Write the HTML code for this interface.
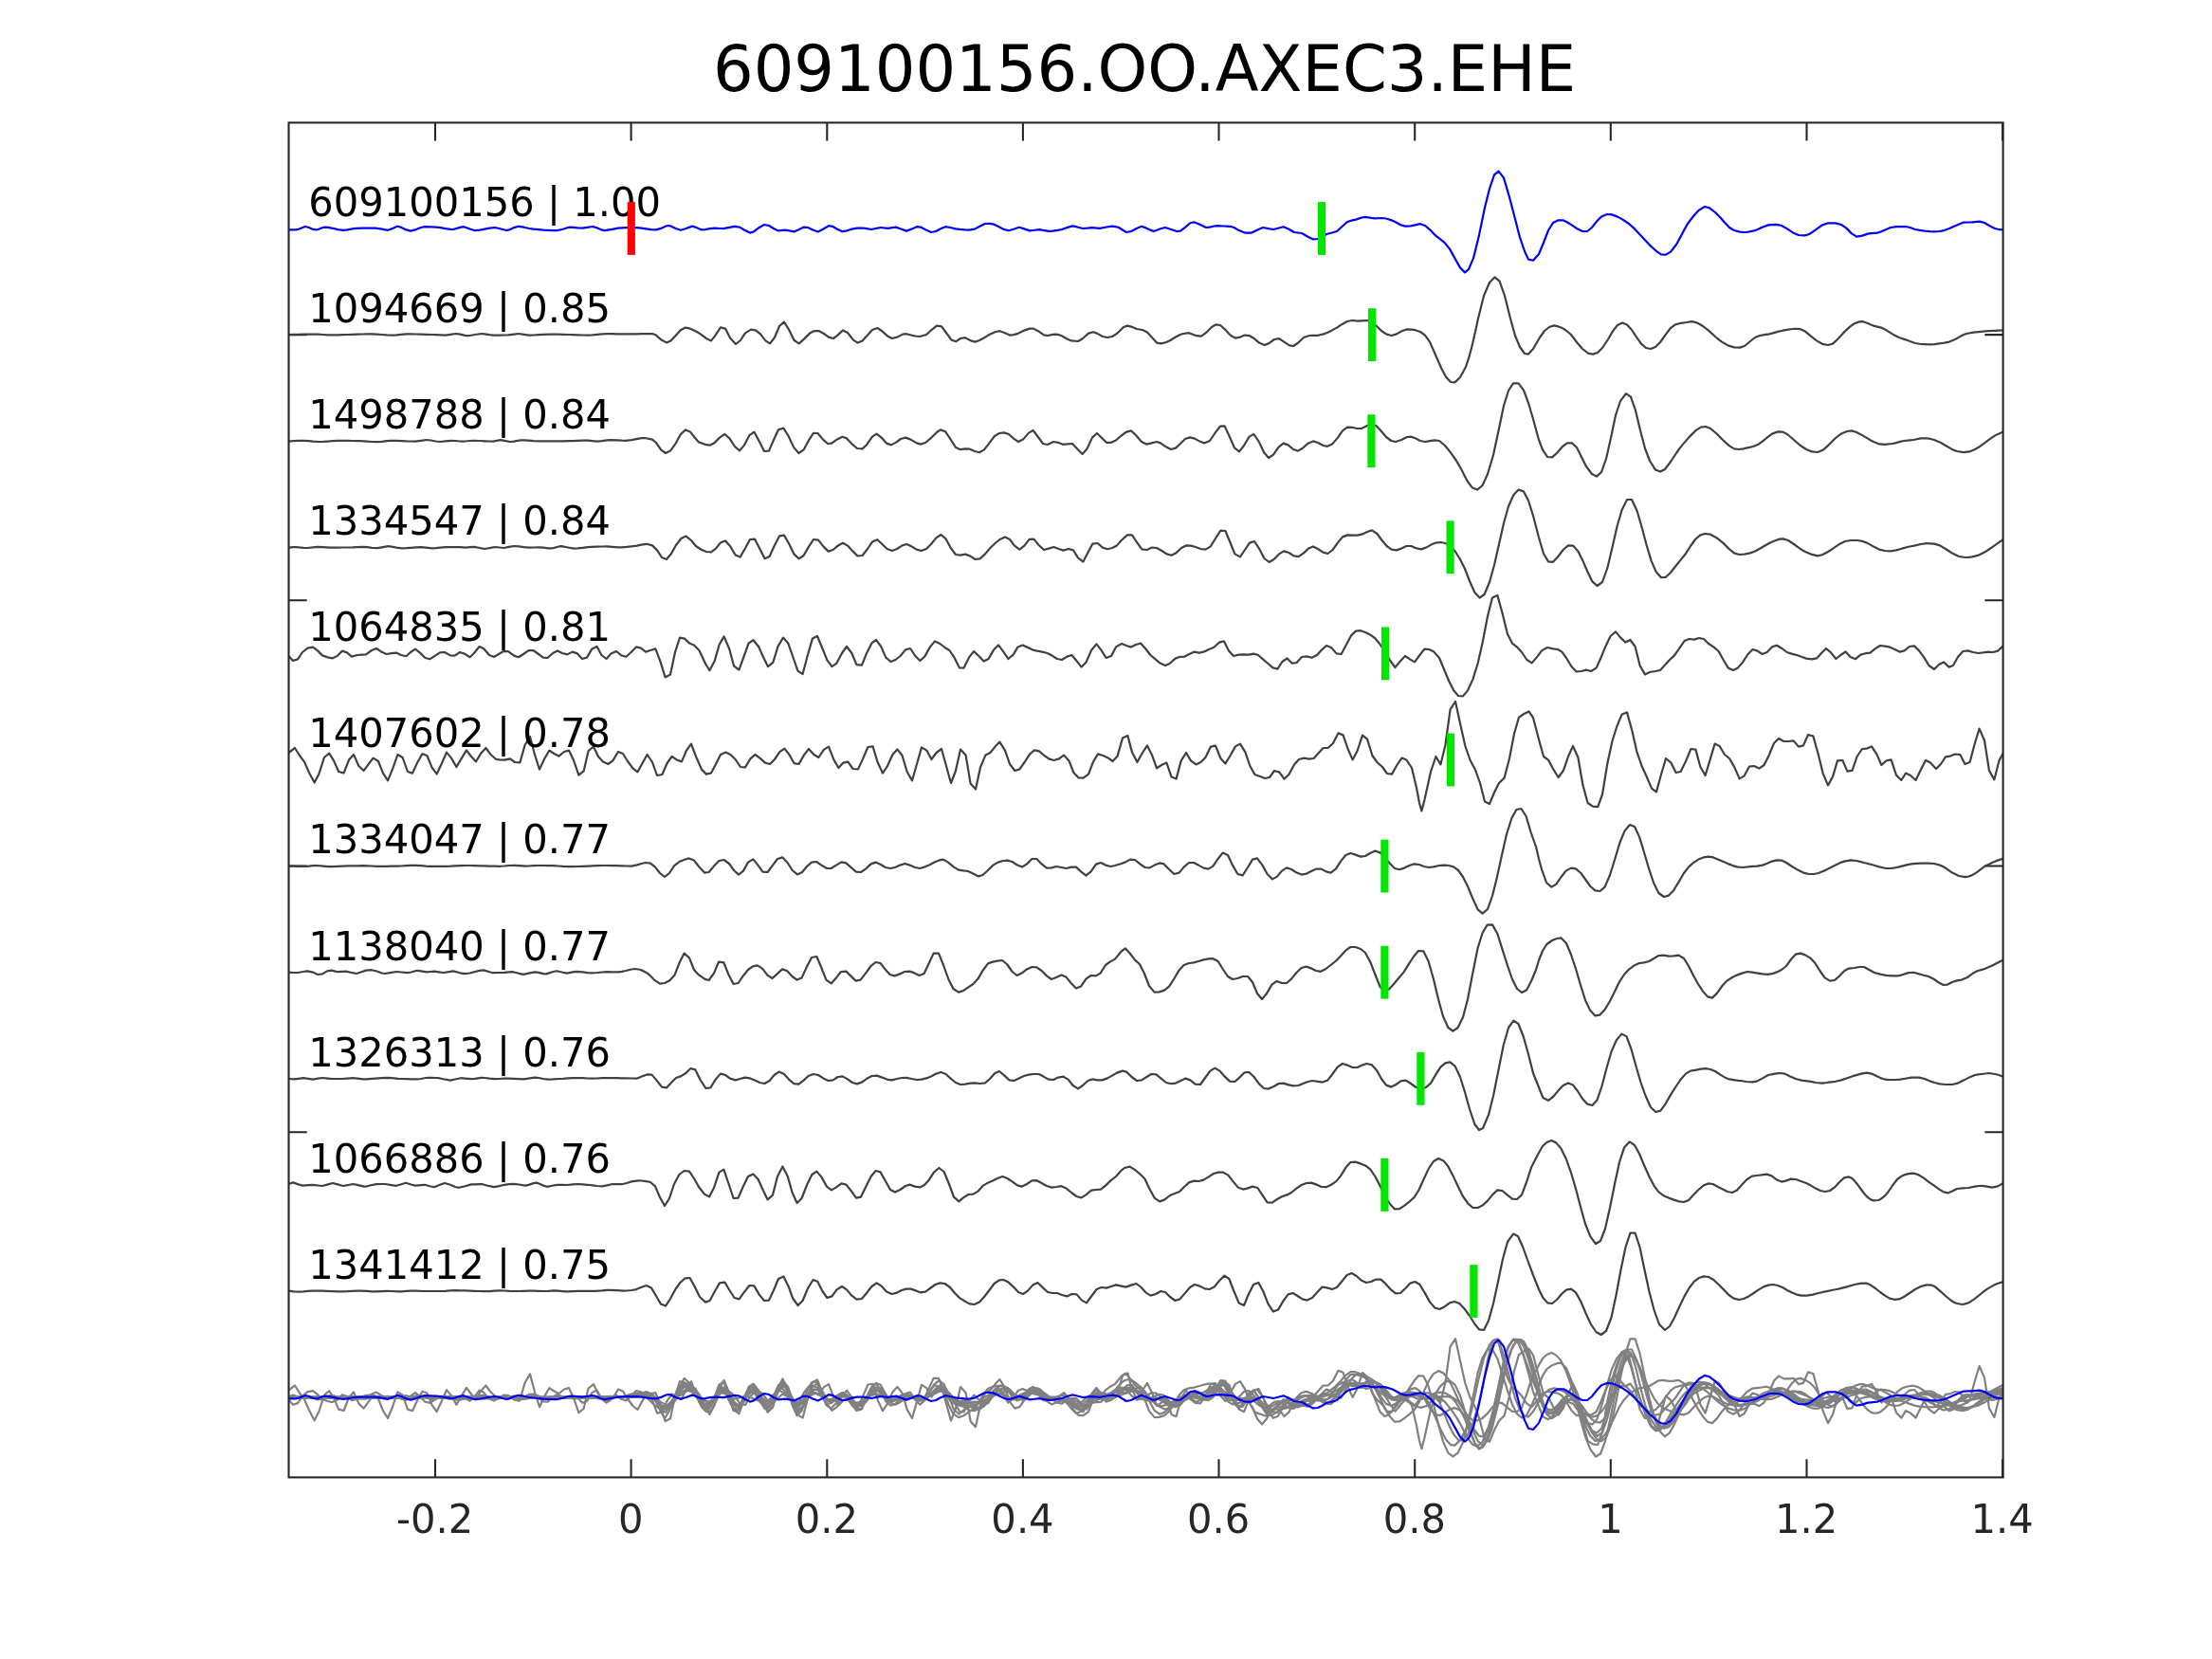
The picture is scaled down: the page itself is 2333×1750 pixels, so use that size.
<!DOCTYPE html><html><head><meta charset="utf-8"><title>609100156.OO.AXEC3.EHE</title>
<style>html,body{margin:0;padding:0;background:#fff}svg{display:block}text{font-family:"DejaVu Sans","Liberation Sans",sans-serif;will-change:transform}</style></head><body>
<svg width="2333" height="1750" viewBox="0 0 2333 1750">
<rect x="0" y="0" width="2333" height="1750" fill="#fff"/>
<clipPath id="ax"><rect x="304.5" y="129.4" width="1808.1" height="1429.0"/></clipPath>
<text x="1207.0" y="96.3" font-size="67.1" text-anchor="middle" fill="#000">609100156.OO.AXEC3.EHE</text>
<path d="M459.0 1558.4V1539.2M459.0 129.4V148.6M665.6 1558.4V1539.2M665.6 129.4V148.6M872.3 1558.4V1539.2M872.3 129.4V148.6M1078.9 1558.4V1539.2M1078.9 129.4V148.6M1285.5 1558.4V1539.2M1285.5 129.4V148.6M1492.2 1558.4V1539.2M1492.2 129.4V148.6M1698.8 1558.4V1539.2M1698.8 129.4V148.6M1905.5 1558.4V1539.2M1905.5 129.4V148.6M2112.1 1558.4V1539.2M2112.1 129.4V148.6M304.5 353.1H323.7M2112.6 353.1H2093.4M304.5 633.2H323.7M2112.6 633.2H2093.4M304.5 913.5H323.7M2112.6 913.5H2093.4M304.5 1194.3H323.7M2112.6 1194.3H2093.4M304.5 1474.2H323.7M2112.6 1474.2H2093.4" stroke="#262626" stroke-width="2.08" fill="none"/>
<g clip-path="url(#ax)"><polyline points="304.0,1474.1 309.7,1473.8 314.8,1473.7 320.0,1473.6 325.2,1473.5 330.0,1473.5 335.5,1473.6 340.7,1473.9 345.8,1474.2 350.0,1474.3 356.2,1474.2 361.3,1474.1 366.5,1473.9 371.7,1473.7 376.8,1473.6 382.0,1473.4 387.2,1473.3 390.0,1473.3 392.3,1473.3 397.5,1473.6 402.7,1473.9 407.8,1474.3 415.0,1474.5 418.2,1474.3 423.3,1473.7 428.0,1473.3 433.6,1473.3 438.8,1473.4 444.0,1473.5 449.1,1473.7 456.0,1473.9 459.5,1474.1 464.6,1474.3 470.0,1474.5 475.0,1473.8 481.0,1472.9 485.3,1473.5 490.5,1474.9 493.0,1475.1 495.6,1474.9 500.8,1473.9 508.0,1472.9 511.1,1473.2 516.3,1474.1 520.0,1474.5 526.6,1474.5 531.8,1474.4 536.0,1474.3 542.1,1473.4 547.0,1472.9 552.5,1473.7 558.0,1474.5 562.8,1474.4 568.0,1474.1 573.1,1473.7 580.0,1473.5 583.5,1473.5 588.6,1473.6 593.8,1473.7 600.0,1473.9 604.1,1474.0 609.3,1474.2 614.5,1474.4 620.0,1474.5 624.8,1474.3 630.0,1473.8 635.1,1473.3 640.0,1473.1 645.5,1473.1 650.6,1473.2 655.8,1473.3 660.0,1473.3 666.1,1473.2 671.3,1473.2 676.5,1473.0 681.6,1472.9 688.0,1472.9 692.0,1474.5 697.1,1479.1 703.0,1482.3 707.4,1480.3 712.6,1474.9 717.8,1469.1 723.0,1466.5 728.1,1467.6 735.0,1470.9 738.4,1473.1 745.0,1477.9 750.0,1480.3 753.9,1475.5 760.0,1466.3 765.0,1467.5 770.0,1477.3 776.0,1483.9 781.0,1479.9 786.0,1472.3 792.0,1468.5 797.0,1469.3 802.0,1473.3 807.4,1480.3 812.0,1483.3 817.0,1476.9 822.0,1464.9 827.0,1460.4 832.0,1468.5 837.6,1479.9 842.8,1483.3 848.0,1478.5 854.0,1472.5 859.0,1469.9 864.0,1470.1 869.0,1472.9 874.0,1476.5 879.0,1477.9 883.1,1474.8 889.0,1469.3 894.0,1471.9 900.0,1479.5 904.6,1482.5 909.6,1480.3 914.1,1475.5 920.0,1468.9 925.4,1466.9 930.0,1469.9 936.0,1475.3 941.0,1477.9 947.0,1476.3 952.0,1473.5 956.0,1473.1 962.0,1474.7 965.7,1475.5 970.0,1475.9 977.0,1473.9 981.2,1470.1 988.0,1464.5 993.0,1465.3 998.0,1471.9 1003.6,1479.5 1008.4,1481.1 1013.0,1477.9 1018.0,1477.1 1024.0,1480.3 1028.4,1481.5 1033.0,1479.9 1038.1,1477.2 1043.2,1474.0 1050.0,1470.9 1054.4,1470.1 1058.7,1471.7 1065.0,1474.5 1069.1,1474.0 1072.0,1473.3 1079.4,1469.7 1086.0,1467.5 1090.0,1467.5 1094.9,1470.1 1101.0,1474.3 1105.0,1474.9 1110.4,1473.8 1113.0,1473.5 1115.6,1473.8 1118.0,1474.5 1120.7,1475.6 1125.9,1478.8 1130.0,1480.3 1137.0,1480.9 1141.4,1478.4 1148.0,1472.5 1153.0,1471.1 1156.9,1472.5 1163.0,1475.9 1168.0,1476.9 1173.0,1475.9 1177.6,1473.0 1180.0,1470.9 1185.0,1465.9 1189.0,1464.5 1193.1,1465.5 1199.0,1467.9 1205.0,1468.9 1210.0,1471.3 1213.7,1475.5 1220.0,1482.5 1225.0,1483.3 1230.0,1481.9 1234.4,1479.9 1239.5,1476.7 1244.7,1473.9 1248.0,1472.9 1254.0,1472.1 1262.0,1475.1 1267.0,1475.5 1272.0,1471.9 1278.0,1465.9 1282.4,1463.2 1287.0,1463.8 1292.0,1468.5 1296.4,1473.2 1299.0,1475.5 1303.0,1477.5 1308.0,1476.5 1313.0,1474.5 1318.0,1475.1 1322.2,1477.7 1328.0,1482.5 1333.6,1485.0 1338.0,1483.3 1344.0,1478.9 1349.0,1478.1 1354.0,1481.3 1360.0,1485.4 1364.0,1486.0 1368.7,1482.9 1375.0,1476.9 1381.0,1474.9 1384.2,1474.8 1390.0,1474.7 1396.0,1473.3 1399.7,1471.9 1404.9,1469.3 1410.0,1466.5 1415.2,1463.0 1421.0,1459.8 1426.0,1458.8 1432.0,1459.4 1435.9,1459.3 1443.0,1458.8 1446.2,1460.0 1452.0,1464.9 1457.0,1469.9 1462.0,1473.3 1467.4,1474.9 1472.4,1473.5 1479.0,1469.9 1484.0,1468.3 1489.0,1468.5 1492.7,1469.1 1498.0,1470.9 1503.0,1474.5 1508.0,1481.5 1513.0,1493.0 1520.0,1509.1 1525.0,1518.5 1530.0,1524.1 1534.4,1524.6 1540.0,1519.1 1546.0,1508.1 1549.5,1497.3 1552.0,1488.0 1554.7,1476.6 1559.0,1456.8 1565.0,1432.7 1571.0,1418.6 1576.4,1413.0 1581.6,1417.2 1587.0,1432.7 1593.0,1456.8 1598.0,1474.9 1603.0,1487.0 1608.0,1494.0 1612.0,1494.6 1617.0,1489.0 1624.0,1476.9 1629.0,1469.9 1634.0,1465.9 1639.0,1464.3 1642.5,1465.0 1645.0,1465.9 1647.7,1467.0 1651.0,1468.9 1657.0,1473.9 1663.0,1481.9 1669.0,1489.0 1675.0,1493.6 1680.0,1494.6 1685.0,1493.0 1690.0,1488.0 1696.0,1478.9 1701.0,1470.3 1706.0,1463.8 1711.0,1461.4 1716.0,1463.4 1721.0,1468.9 1726.0,1476.5 1731.0,1483.5 1736.0,1488.0 1741.0,1489.0 1746.0,1487.0 1751.0,1481.9 1757.0,1473.5 1762.0,1466.9 1767.0,1463.2 1773.0,1461.6 1779.0,1460.8 1784.0,1460.0 1787.1,1460.5 1790.0,1461.4 1792.3,1462.5 1796.0,1464.9 1802.0,1469.5 1809.0,1475.9 1813.0,1479.3 1816.0,1481.5 1823.0,1485.6 1829.0,1487.4 1835.0,1487.6 1840.0,1486.0 1846.0,1480.9 1851.0,1476.9 1856.0,1474.9 1859.5,1474.3 1866.0,1473.3 1869.8,1472.3 1876.0,1470.5 1880.1,1469.5 1886.0,1468.5 1890.5,1467.8 1893.0,1467.7 1895.6,1467.8 1899.0,1468.1 1904.0,1470.5 1910.0,1475.5 1916.0,1480.3 1922.0,1483.7 1928.0,1485.0 1933.0,1483.5 1938.0,1478.9 1944.0,1472.3 1947.3,1468.9 1950.0,1466.5 1952.5,1464.4 1956.0,1462.0 1961.0,1460.2 1965.0,1460.0 1970.0,1461.8 1973.1,1463.3 1976.0,1464.5 1984.0,1466.5 1990.0,1469.5 1996.0,1473.3 1998.9,1475.0 2003.0,1476.9 2009.3,1479.0 2012.0,1479.9 2014.4,1480.9 2020.0,1482.9 2026.0,1483.9 2029.9,1484.2 2036.0,1484.4 2040.3,1484.1 2045.4,1483.3 2048.0,1482.9 2050.6,1482.6 2056.0,1481.5 2062.0,1478.9 2068.0,1475.5 2071.3,1473.9 2074.0,1472.9 2076.4,1472.4 2081.6,1471.6 2084.0,1471.3 2086.8,1471.0 2094.0,1470.3 2097.1,1470.1 2104.0,1469.7 2107.4,1469.5 2113.0,1469.3" fill="none" stroke="#808080" stroke-width="2.20" stroke-linejoin="round" stroke-linecap="butt"/>
<polyline points="304.0,1474.4 309.7,1473.9 314.8,1473.7 320.0,1473.6 325.2,1473.9 330.3,1474.5 336.0,1474.8 340.7,1474.7 345.8,1474.4 351.0,1474.0 356.2,1473.7 360.0,1473.6 366.5,1473.7 371.7,1473.8 376.8,1473.9 380.0,1474.0 387.2,1474.4 392.3,1474.8 398.0,1475.0 402.7,1474.7 407.8,1473.9 412.0,1473.6 418.2,1473.7 423.3,1473.9 428.5,1474.2 433.6,1474.4 438.0,1474.4 444.0,1473.6 450.0,1472.8 454.3,1473.3 459.5,1474.3 464.0,1474.8 469.8,1474.2 476.0,1473.6 480.1,1473.8 485.3,1474.3 488.0,1474.4 490.5,1474.3 495.6,1473.8 500.0,1473.6 506.0,1473.8 511.1,1474.1 516.3,1474.3 520.0,1474.4 528.0,1473.0 531.8,1473.6 538.0,1474.8 542.1,1474.4 547.3,1473.4 550.0,1473.2 552.5,1473.2 557.6,1473.5 562.8,1473.9 570.0,1474.2 573.1,1474.2 578.3,1474.2 583.5,1474.2 588.6,1474.1 593.8,1474.1 600.0,1474.0 604.1,1473.9 609.3,1473.7 614.5,1473.5 620.0,1473.4 624.8,1473.9 630.0,1474.4 635.1,1474.0 640.3,1473.2 644.0,1473.0 650.6,1473.2 655.8,1473.5 660.0,1473.6 666.1,1473.0 671.3,1471.9 676.5,1471.0 680.0,1470.8 688.0,1472.4 692.0,1475.9 697.1,1483.2 702.0,1486.9 707.0,1484.5 712.6,1476.6 717.8,1467.0 723.0,1462.2 728.0,1464.4 733.3,1471.1 737.0,1475.2 745.0,1478.0 749.0,1478.4 753.0,1476.4 759.0,1470.4 764.4,1466.8 769.6,1471.4 775.0,1479.8 780.0,1484.3 785.0,1478.4 790.4,1468.0 795.4,1464.4 801.0,1474.8 806.0,1484.9 811.0,1484.5 816.0,1472.8 821.0,1461.9 826.4,1460.3 831.6,1468.8 837.0,1480.4 842.4,1486.9 847.6,1483.3 853.0,1473.2 858.0,1465.6 862.4,1465.8 868.0,1472.4 873.0,1476.8 877.0,1476.4 883.0,1472.2 888.4,1469.6 893.0,1471.2 898.6,1477.1 904.0,1481.8 909.6,1482.3 914.1,1478.0 920.0,1469.4 924.6,1466.4 929.6,1470.4 935.0,1476.4 940.0,1478.2 945.1,1475.4 950.0,1471.8 955.0,1470.4 960.0,1472.2 967.0,1476.2 971.0,1477.4 976.0,1475.8 981.2,1471.5 988.0,1464.8 992.0,1462.2 997.0,1464.0 1001.9,1471.1 1008.0,1480.8 1013.0,1483.1 1018.0,1482.3 1022.4,1482.5 1028.0,1484.9 1033.0,1486.1 1038.0,1483.3 1043.2,1476.5 1049.0,1468.8 1054.0,1465.8 1059.0,1465.2 1064.0,1466.8 1069.1,1471.4 1074.0,1474.8 1079.0,1472.4 1085.0,1465.4 1089.6,1462.8 1095.0,1469.8 1100.0,1476.8 1105.0,1477.8 1111.0,1474.8 1116.0,1475.6 1121.0,1477.6 1125.9,1477.2 1131.0,1476.8 1136.2,1482.2 1141.6,1487.9 1146.4,1482.5 1152.0,1470.4 1157.0,1465.8 1162.1,1470.8 1167.0,1475.6 1172.0,1475.6 1177.0,1473.2 1182.7,1468.2 1188.0,1464.4 1193.0,1463.2 1198.0,1467.8 1204.0,1474.8 1209.0,1477.4 1213.7,1476.4 1220.0,1474.8 1224.0,1476.2 1229.2,1479.9 1235.0,1482.9 1240.0,1481.4 1244.7,1477.0 1250.0,1471.8 1255.0,1470.2 1260.0,1471.4 1265.4,1474.4 1270.0,1476.2 1276.0,1473.8 1282.0,1464.8 1287.0,1458.3 1291.6,1458.1 1297.0,1469.8 1302.0,1481.2 1307.0,1485.3 1312.0,1478.8 1317.6,1469.4 1322.4,1466.8 1327.6,1474.4 1333.0,1485.9 1338.0,1491.9 1343.0,1488.5 1348.6,1480.4 1353.6,1476.4 1358.6,1478.2 1364.0,1482.9 1369.0,1484.5 1373.9,1481.7 1380.0,1476.2 1385.0,1474.2 1390.0,1475.8 1395.6,1478.8 1400.0,1479.6 1405.0,1477.4 1411.0,1470.4 1416.0,1463.2 1421.0,1459.3 1426.0,1459.5 1431.0,1460.7 1436.0,1460.7 1442.0,1457.7 1447.0,1456.3 1452.0,1458.3 1457.0,1463.8 1462.0,1469.8 1467.4,1473.8 1472.0,1474.8 1478.0,1472.8 1484.0,1469.8 1488.0,1469.4 1492.7,1471.1 1498.0,1473.8 1503.0,1474.8 1508.2,1474.0 1513.0,1473.2 1518.0,1473.8 1524.0,1478.8 1530.0,1486.3 1536.0,1494.9 1539.2,1500.4 1542.0,1505.6 1544.3,1510.2 1548.0,1517.0 1553.0,1523.7 1558.0,1525.7 1563.6,1521.0 1569.0,1509.0 1575.0,1488.9 1581.0,1460.7 1586.0,1436.6 1591.0,1420.5 1596.0,1412.9 1601.6,1412.9 1607.0,1420.1 1612.0,1433.6 1617.0,1450.7 1623.0,1472.8 1627.0,1483.3 1632.0,1490.9 1637.0,1491.3 1642.0,1486.9 1648.0,1479.8 1653.0,1476.2 1658.0,1476.2 1663.0,1480.8 1668.0,1490.9 1673.0,1500.9 1679.0,1509.0 1684.0,1511.6 1689.0,1507.0 1694.0,1492.9 1699.0,1470.8 1704.0,1446.7 1709.0,1431.6 1715.0,1423.8 1720.0,1427.2 1725.0,1441.6 1730.0,1462.8 1735.0,1481.8 1740.0,1494.9 1746.0,1504.6 1751.0,1506.6 1756.0,1504.0 1762.0,1495.9 1768.0,1486.9 1771.6,1481.8 1775.0,1477.4 1782.0,1469.4 1789.0,1462.4 1794.0,1459.3 1799.0,1458.7 1804.0,1460.7 1810.0,1465.8 1813.0,1468.7 1817.0,1472.8 1824.0,1479.2 1829.0,1482.3 1834.0,1482.9 1838.8,1482.2 1842.0,1481.4 1849.0,1479.8 1855.0,1477.2 1859.5,1473.9 1862.0,1471.8 1864.6,1469.6 1869.0,1466.4 1875.0,1464.2 1880.0,1464.4 1885.0,1466.8 1892.0,1472.8 1895.6,1476.0 1899.0,1478.8 1905.0,1482.9 1911.0,1485.3 1917.0,1485.9 1923.0,1483.3 1926.6,1480.2 1929.0,1477.8 1931.8,1475.0 1936.0,1470.8 1942.0,1466.2 1948.0,1463.8 1953.0,1463.2 1957.6,1464.6 1960.0,1465.8 1962.8,1467.2 1968.0,1470.2 1973.1,1473.3 1976.0,1474.8 1982.0,1477.2 1988.0,1477.6 1996.0,1476.8 1998.9,1476.2 2004.1,1474.7 2008.0,1473.8 2014.4,1473.2 2018.0,1472.8 2026.0,1471.2 2032.0,1471.2 2035.1,1471.5 2040.0,1472.8 2046.0,1475.2 2052.0,1478.8 2058.0,1482.3 2060.9,1483.7 2064.0,1484.9 2071.0,1486.1 2077.0,1485.3 2083.0,1482.9 2086.8,1480.6 2090.0,1478.4 2098.0,1472.4 2102.3,1469.4 2106.0,1467.2 2113.0,1464.2" fill="none" stroke="#808080" stroke-width="2.20" stroke-linejoin="round" stroke-linecap="butt"/>
<polyline points="304.4,1474.3 309.7,1474.0 312.0,1473.9 314.8,1474.0 320.0,1474.5 324.0,1474.7 330.3,1474.0 335.0,1473.5 340.7,1473.8 348.0,1474.3 351.0,1474.3 356.2,1474.3 361.3,1474.3 366.5,1474.2 372.0,1474.1 376.8,1473.8 382.0,1473.5 387.2,1473.9 392.3,1474.5 398.0,1474.9 402.7,1474.1 409.0,1472.9 413.0,1473.3 418.2,1474.4 424.0,1475.1 428.5,1475.0 433.6,1474.6 438.8,1474.1 444.0,1473.9 449.1,1474.4 456.0,1475.1 459.5,1475.0 464.6,1474.4 470.0,1473.9 475.0,1473.8 481.0,1473.7 485.3,1474.0 491.0,1474.3 495.6,1473.9 500.0,1473.5 506.0,1474.8 511.0,1475.7 516.3,1474.8 522.0,1473.7 526.6,1474.2 531.0,1474.7 537.0,1473.6 542.0,1472.7 547.3,1473.1 552.5,1473.9 558.0,1474.3 562.8,1474.2 569.0,1474.1 573.1,1474.4 578.3,1475.0 581.0,1475.1 583.5,1474.8 588.6,1473.4 592.0,1472.9 599.0,1474.2 605.0,1475.3 609.3,1475.1 614.5,1474.5 620.0,1473.9 624.8,1473.6 630.0,1473.4 635.1,1473.2 640.0,1473.1 645.5,1473.5 652.0,1474.1 655.8,1474.0 661.0,1473.6 666.1,1473.1 672.0,1472.3 676.5,1471.4 682.0,1470.5 688.0,1472.1 693.0,1477.1 698.0,1484.8 703.0,1486.8 708.0,1480.8 713.0,1471.7 718.4,1464.7 723.6,1462.3 729.0,1466.7 734.0,1472.7 740.0,1476.7 745.0,1478.7 750.0,1479.1 755.0,1475.3 760.0,1469.1 765.0,1467.1 770.0,1472.7 775.6,1482.2 780.6,1484.4 785.6,1475.7 791.0,1465.7 796.0,1465.3 801.4,1475.7 806.6,1486.0 811.6,1483.8 816.6,1472.7 822.0,1462.1 827.0,1461.3 832.4,1470.7 837.4,1481.2 842.6,1486.2 847.6,1482.8 853.0,1473.3 858.0,1465.7 863.0,1466.3 868.4,1473.1 873.6,1478.3 878.6,1476.7 884.0,1472.1 889.0,1469.5 894.0,1472.3 899.4,1478.1 904.4,1483.2 909.6,1482.8 915.0,1475.7 920.0,1468.3 925.4,1465.9 930.4,1470.7 935.6,1475.7 941.0,1477.7 946.0,1475.7 951.6,1472.1 956.4,1470.7 961.6,1473.1 966.6,1476.3 971.6,1477.7 977.0,1475.7 982.0,1470.7 987.4,1464.1 992.4,1460.7 997.6,1465.1 1003.0,1475.1 1008.0,1481.8 1013.0,1482.4 1018.0,1481.4 1023.0,1483.2 1028.6,1486.8 1033.6,1486.2 1039.0,1481.2 1044.4,1474.7 1049.6,1469.7 1054.6,1465.7 1060.0,1463.3 1065.0,1465.7 1070.0,1472.3 1075.4,1476.3 1080.4,1472.3 1085.6,1465.5 1090.4,1465.3 1095.6,1471.7 1101.0,1476.7 1106.0,1475.3 1111.4,1473.7 1116.6,1475.7 1121.6,1477.3 1127.0,1475.7 1132.0,1477.1 1137.0,1485.2 1142.4,1489.4 1147.4,1479.7 1152.4,1470.3 1157.6,1469.7 1163.0,1474.3 1168.0,1475.9 1173.0,1474.7 1178.0,1472.1 1182.7,1466.7 1189.0,1461.1 1194.0,1461.1 1199.0,1468.7 1204.4,1476.1 1209.6,1476.7 1215.0,1474.3 1220.0,1474.7 1225.4,1477.7 1230.4,1481.2 1235.6,1482.6 1240.0,1480.4 1246.0,1474.7 1251.0,1472.1 1256.0,1472.3 1261.0,1473.7 1266.4,1475.7 1271.4,1476.3 1276.6,1473.3 1282.0,1464.7 1287.4,1456.2 1292.4,1456.6 1297.4,1468.7 1302.4,1481.2 1308.0,1484.2 1313.0,1476.7 1318.0,1469.3 1323.0,1467.7 1328.0,1475.3 1333.4,1485.8 1338.6,1489.8 1343.6,1486.8 1349.0,1481.2 1354.0,1478.1 1359.4,1479.7 1364.6,1483.2 1369.6,1484.0 1375.0,1480.1 1380.0,1475.3 1385.0,1473.1 1390.0,1475.7 1395.4,1479.3 1400.4,1480.8 1405.6,1476.7 1411.0,1469.1 1416.0,1463.1 1421.4,1461.1 1427.0,1461.3 1432.0,1461.3 1437.0,1460.0 1442.0,1457.6 1447.0,1456.0 1452.4,1459.6 1457.6,1466.7 1462.6,1472.7 1467.6,1476.3 1473.0,1477.1 1478.0,1475.3 1483.4,1472.7 1488.4,1472.7 1494.0,1475.1 1499.0,1476.1 1504.0,1474.3 1509.4,1471.3 1514.4,1469.3 1519.4,1468.7 1524.6,1469.7 1530.0,1472.7 1535.0,1478.7 1540.0,1486.8 1545.0,1496.8 1550.0,1509.9 1555.4,1522.0 1560.6,1527.6 1565.6,1524.0 1571.0,1510.9 1576.0,1492.8 1581.0,1470.7 1586.0,1448.6 1591.0,1430.5 1596.4,1418.4 1601.6,1413.0 1607.0,1414.8 1612.0,1424.5 1617.0,1440.6 1623.0,1463.7 1628.0,1480.8 1633.0,1489.2 1638.0,1489.6 1643.4,1483.8 1648.6,1476.7 1654.0,1472.1 1659.0,1472.3 1664.4,1478.1 1669.4,1488.4 1674.4,1499.8 1679.4,1510.3 1684.6,1514.9 1690.0,1510.9 1695.4,1495.8 1700.6,1473.7 1705.6,1451.6 1710.6,1434.5 1716.0,1423.5 1721.0,1423.5 1726.6,1435.5 1731.6,1452.6 1736.6,1471.7 1741.6,1488.4 1746.6,1499.8 1752.0,1506.1 1756.6,1505.9 1762.0,1500.9 1767.4,1493.8 1771.6,1488.7 1778.0,1480.8 1783.0,1472.7 1788.0,1465.7 1793.0,1461.3 1798.0,1459.6 1803.6,1460.3 1809.0,1463.1 1813.0,1465.9 1818.0,1470.1 1824.0,1476.1 1829.4,1480.4 1834.4,1481.8 1840.0,1481.4 1846.0,1480.1 1849.1,1479.0 1852.0,1477.7 1854.3,1476.5 1859.0,1473.7 1866.0,1469.7 1869.8,1468.0 1873.0,1466.7 1877.0,1465.3 1880.6,1465.1 1886.0,1466.7 1892.0,1470.7 1895.6,1473.4 1898.0,1475.1 1900.8,1476.9 1904.0,1478.7 1910.0,1481.4 1917.0,1483.2 1922.0,1482.0 1928.0,1478.7 1931.8,1476.3 1935.0,1474.1 1941.0,1470.1 1946.0,1467.7 1952.0,1466.7 1959.0,1466.7 1964.0,1467.5 1969.0,1469.3 1973.1,1471.6 1976.0,1473.3 1982.0,1476.3 1988.0,1477.7 1994.0,1478.1 2000.0,1477.1 2004.1,1476.0 2007.0,1475.1 2012.0,1473.7 2014.4,1473.2 2019.0,1472.3 2026.0,1470.7 2032.0,1469.9 2035.1,1470.0 2040.0,1470.3 2046.0,1472.1 2052.0,1475.7 2055.8,1478.3 2059.0,1480.4 2066.0,1483.8 2073.0,1484.8 2076.4,1484.6 2080.0,1484.2 2087.0,1482.4 2094.0,1478.7 2097.1,1476.8 2102.0,1473.3 2109.0,1468.3 2113.0,1465.7" fill="none" stroke="#808080" stroke-width="2.20" stroke-linejoin="round" stroke-linecap="butt"/>
<polyline points="304.4,1476.6 309.0,1481.7 314.0,1480.1 319.0,1472.6 324.4,1468.2 330.0,1467.2 335.0,1471.0 340.0,1476.0 345.6,1478.0 350.4,1479.1 355.6,1476.6 361.0,1471.2 366.0,1473.0 371.0,1477.2 377.0,1475.6 382.0,1475.3 386.0,1475.0 392.0,1470.6 397.0,1468.6 402.0,1472.0 407.6,1474.6 413.0,1473.8 418.0,1473.2 423.0,1475.6 428.4,1476.8 433.0,1472.6 438.0,1469.2 443.0,1473.2 448.4,1478.7 453.6,1479.9 459.0,1476.2 464.0,1473.0 469.0,1472.6 475.0,1476.0 479.6,1476.2 485.0,1472.6 490.0,1474.2 495.6,1477.8 500.0,1473.6 505.6,1466.6 510.0,1468.6 516.0,1475.6 521.0,1477.6 526.0,1474.6 531.0,1471.6 536.0,1471.8 542.0,1476.2 547.0,1477.8 552.0,1474.6 557.6,1470.8 562.4,1470.6 568.0,1474.6 573.0,1478.3 577.6,1478.7 583.0,1473.6 588.0,1471.0 593.0,1473.6 598.4,1475.0 603.6,1472.2 609.0,1474.0 614.0,1479.7 619.0,1478.3 624.4,1469.0 629.6,1466.6 634.4,1475.6 639.6,1479.7 644.4,1474.2 650.0,1471.6 655.0,1475.8 660.4,1477.4 665.6,1472.6 671.0,1467.0 676.0,1468.2 681.0,1472.2 686.0,1470.6 691.4,1469.0 696.4,1482.3 701.6,1499.2 707.0,1496.3 712.0,1472.6 717.0,1457.1 722.0,1458.2 727.0,1463.0 732.0,1465.0 737.4,1470.6 744.0,1484.7 748.4,1491.9 753.6,1482.3 758.6,1464.6 763.6,1455.9 769.4,1469.6 774.0,1487.1 779.4,1491.3 784.4,1477.6 789.6,1463.0 794.6,1459.8 800.0,1466.6 805.0,1477.6 810.0,1487.9 815.4,1483.3 820.6,1466.2 826.0,1457.1 831.2,1463.0 836.0,1476.6 841.4,1492.3 846.6,1495.7 851.6,1476.6 857.0,1457.9 862.0,1455.5 867.4,1468.6 872.4,1481.1 877.4,1487.9 882.4,1484.3 888.0,1473.6 893.0,1466.6 898.4,1473.6 903.4,1485.9 909.0,1486.3 914.0,1473.8 919.4,1463.0 924.0,1459.6 929.0,1466.2 934.4,1478.3 939.4,1482.7 944.4,1480.7 949.6,1476.6 955.0,1470.0 960.0,1468.6 965.4,1476.6 970.4,1481.7 975.4,1477.0 981.0,1467.0 986.0,1461.0 991.4,1463.6 996.4,1467.6 1001.4,1470.6 1006.4,1478.0 1012.0,1489.1 1016.6,1489.3 1022.0,1478.0 1027.2,1471.6 1032.4,1476.6 1037.6,1482.3 1042.6,1479.7 1048.0,1470.2 1053.0,1465.0 1058.4,1472.2 1063.4,1479.7 1068.6,1475.2 1073.6,1467.0 1078.6,1465.0 1084.0,1467.6 1089.4,1470.2 1094.0,1471.2 1099.4,1472.2 1104.6,1473.6 1109.6,1476.2 1115.0,1479.7 1120.0,1480.7 1125.4,1477.2 1130.4,1475.6 1135.4,1481.7 1140.6,1488.3 1145.6,1483.1 1151.0,1470.6 1156.4,1464.0 1161.4,1470.2 1166.6,1478.7 1172.0,1476.6 1177.0,1467.0 1183.0,1463.6 1188.0,1465.6 1193.0,1467.2 1198.0,1464.6 1203.0,1463.2 1208.0,1468.6 1213.4,1475.6 1218.6,1480.1 1223.6,1484.3 1229.0,1486.7 1233.6,1484.7 1239.6,1479.3 1244.0,1477.6 1249.4,1477.2 1254.4,1474.6 1259.6,1472.2 1265.0,1473.2 1270.0,1472.0 1275.0,1469.6 1280.0,1467.6 1286.0,1462.2 1291.0,1461.0 1296.0,1471.0 1301.0,1476.6 1306.4,1475.2 1312.0,1475.0 1317.0,1475.2 1322.0,1474.2 1327.0,1475.6 1332.0,1480.1 1337.4,1484.7 1342.4,1489.1 1347.4,1490.3 1352.4,1482.7 1357.6,1479.1 1362.6,1484.3 1367.6,1483.7 1373.0,1477.6 1378.0,1477.0 1383.6,1478.5 1389.0,1475.6 1394.0,1470.2 1399.0,1465.6 1404.0,1467.6 1409.6,1474.0 1414.6,1474.6 1420.0,1464.6 1425.0,1454.9 1430.0,1450.1 1435.0,1449.7 1440.0,1451.5 1445.0,1453.9 1450.0,1457.5 1455.0,1463.6 1461.0,1472.6 1466.4,1481.7 1471.4,1488.7 1476.4,1482.7 1482.0,1476.6 1487.0,1480.1 1492.0,1483.1 1497.4,1475.6 1502.4,1469.2 1507.4,1469.6 1512.4,1472.2 1518.0,1478.7 1523.0,1490.7 1528.0,1502.8 1533.0,1512.8 1538.0,1518.9 1543.0,1519.3 1548.0,1513.2 1553.4,1501.4 1558.6,1484.7 1563.6,1462.6 1569.0,1434.4 1574.0,1414.7 1579.4,1412.3 1584.6,1431.4 1590.0,1453.5 1595.0,1463.2 1600.0,1467.2 1605.0,1472.6 1610.4,1480.7 1615.6,1484.1 1621.8,1476.8 1626.0,1471.0 1632.0,1467.6 1638.0,1469.0 1643.0,1469.6 1647.4,1472.2 1652.0,1478.7 1657.4,1487.7 1662.6,1493.1 1668.0,1492.7 1673.0,1491.3 1678.0,1492.7 1683.6,1489.3 1688.4,1478.7 1693.6,1466.0 1698.6,1455.5 1704.0,1450.9 1709.0,1456.9 1714.4,1462.2 1719.4,1459.6 1724.6,1466.6 1729.6,1486.7 1735.0,1496.1 1740.0,1493.7 1746.0,1492.7 1751.0,1491.7 1756.0,1486.3 1761.0,1480.7 1766.0,1476.0 1771.4,1468.2 1776.6,1460.6 1781.6,1458.6 1787.0,1459.2 1792.0,1457.5 1797.0,1458.6 1802.0,1463.6 1807.6,1467.2 1812.6,1471.6 1817.6,1480.7 1822.6,1489.1 1828.0,1491.7 1833.0,1489.1 1838.0,1483.3 1843.6,1474.6 1848.6,1469.6 1853.6,1471.2 1858.6,1474.6 1863.6,1472.6 1869.0,1467.0 1874.0,1465.4 1879.4,1468.6 1884.6,1472.6 1889.6,1474.2 1895.0,1475.6 1900.0,1477.4 1905.0,1479.3 1911.0,1480.1 1916.0,1479.1 1921.0,1473.6 1926.0,1468.6 1931.0,1473.0 1936.4,1479.7 1941.4,1475.6 1946.6,1472.0 1951.6,1477.6 1957.0,1479.9 1962.4,1475.2 1967.4,1473.8 1972.4,1473.2 1977.6,1469.0 1983.0,1465.6 1988.0,1466.2 1993.0,1467.2 1998.4,1469.6 2003.6,1472.2 2008.6,1471.0 2014.0,1466.6 2019.0,1466.0 2024.0,1471.0 2029.4,1478.3 2034.4,1486.7 2040.0,1490.7 2045.0,1485.7 2050.0,1483.1 2055.6,1488.3 2060.0,1486.7 2065.0,1477.6 2070.4,1471.6 2075.6,1471.0 2081.0,1472.6 2086.4,1473.6 2091.6,1473.0 2097.0,1472.2 2102.0,1472.6 2107.0,1471.2 2113.0,1465.6" fill="none" stroke="#808080" stroke-width="2.20" stroke-linejoin="round" stroke-linecap="butt"/>
<polyline points="304.4,1466.5 311.0,1461.5 316.0,1469.5 321.0,1476.1 326.0,1487.6 331.6,1498.3 336.4,1489.0 342.0,1471.5 347.2,1467.1 352.0,1474.9 357.2,1486.6 362.6,1488.0 368.0,1474.1 373.0,1468.5 378.4,1480.6 383.6,1485.6 389.0,1478.2 393.6,1472.1 399.0,1475.5 404.0,1488.2 409.0,1496.0 414.0,1484.0 419.4,1468.5 424.6,1471.5 430.0,1486.6 435.0,1488.2 440.4,1476.6 445.4,1467.7 450.4,1469.5 455.6,1482.2 460.6,1489.0 465.6,1478.6 471.0,1466.1 476.0,1472.1 481.4,1481.6 486.4,1473.1 492.0,1463.9 497.0,1470.5 502.0,1475.9 507.0,1467.5 512.4,1461.5 517.6,1468.5 523.0,1473.3 526.6,1473.8 532.0,1474.1 538.0,1472.9 543.0,1476.6 548.4,1477.0 553.6,1458.5 559.0,1449.4 564.0,1468.5 569.0,1484.2 574.4,1472.5 579.4,1464.1 584.4,1467.5 589.4,1470.1 595.0,1465.5 600.0,1464.1 605.0,1474.5 610.4,1490.2 615.6,1486.0 620.6,1464.5 626.0,1460.1 631.0,1470.5 636.0,1476.1 641.4,1478.6 646.4,1474.9 652.0,1465.5 657.0,1467.5 662.0,1475.5 667.4,1483.0 672.4,1487.0 677.6,1477.6 682.6,1468.5 688.0,1476.6 693.0,1490.6 698.4,1489.6 703.6,1477.6 708.6,1470.5 714.0,1474.1 719.0,1475.9 724.0,1464.1 729.0,1457.1 734.0,1470.5 740.0,1484.2 745.0,1489.2 750.0,1488.0 755.0,1478.6 760.0,1468.5 765.4,1466.1 770.4,1468.5 775.6,1473.5 781.0,1481.6 786.0,1482.0 791.4,1472.9 796.4,1468.5 801.4,1472.1 807.0,1477.2 812.0,1478.6 817.0,1473.5 822.4,1465.7 827.4,1462.1 832.4,1468.5 837.6,1477.8 842.6,1478.6 848.0,1468.9 853.0,1462.5 858.4,1468.5 863.4,1471.5 869.0,1463.1 874.0,1460.1 879.4,1473.9 884.4,1482.6 889.4,1477.2 894.4,1476.1 899.6,1483.6 905.0,1484.0 910.0,1473.1 915.4,1460.5 920.6,1459.9 925.6,1476.6 931.0,1488.2 936.0,1480.6 941.4,1468.5 946.4,1462.9 951.6,1469.5 956.6,1486.6 962.0,1496.0 967.0,1478.6 972.0,1460.9 977.4,1464.1 982.4,1473.5 987.6,1466.5 993.0,1462.5 998.0,1480.6 1003.0,1498.7 1008.0,1485.6 1013.0,1463.1 1018.6,1469.1 1023.6,1499.3 1029.0,1505.3 1034.0,1482.0 1039.4,1469.1 1044.4,1466.5 1049.6,1460.1 1054.4,1455.0 1060.0,1464.1 1065.0,1478.6 1070.4,1485.6 1075.4,1484.0 1080.6,1476.6 1086.0,1468.1 1091.0,1463.9 1096.0,1464.9 1101.4,1469.5 1106.6,1473.1 1111.6,1474.5 1117.0,1472.9 1122.0,1469.1 1127.4,1474.9 1132.4,1487.6 1137.6,1493.0 1142.6,1493.2 1148.0,1489.2 1153.0,1476.1 1158.0,1467.9 1163.4,1469.5 1168.6,1471.9 1173.6,1475.5 1178.6,1469.9 1184.0,1451.0 1189.4,1448.4 1194.0,1466.1 1199.4,1476.6 1204.4,1467.5 1210.0,1458.9 1215.0,1468.9 1220.0,1483.0 1225.0,1479.6 1230.4,1477.2 1235.6,1492.2 1240.6,1494.2 1245.6,1475.1 1251.0,1466.5 1256.0,1474.9 1261.4,1479.0 1266.4,1476.6 1271.4,1471.5 1277.0,1460.1 1282.0,1459.1 1287.4,1472.5 1292.4,1478.0 1297.6,1469.5 1303.0,1459.9 1308.0,1457.1 1313.4,1465.9 1318.4,1480.6 1323.4,1489.6 1329.0,1491.6 1334.0,1493.6 1339.0,1492.6 1344.0,1485.6 1349.4,1487.2 1354.4,1494.2 1359.4,1489.6 1365.0,1479.2 1370.0,1473.5 1375.6,1472.1 1380.6,1473.1 1385.6,1472.5 1391.0,1466.5 1395.6,1461.5 1400.6,1461.5 1406.0,1456.5 1411.4,1445.8 1416.6,1447.8 1421.6,1462.5 1426.6,1473.9 1431.6,1464.5 1437.0,1448.0 1442.0,1452.0 1447.4,1469.5 1452.4,1476.6 1458.0,1481.6 1463.0,1488.6 1468.0,1489.2 1473.4,1479.6 1478.4,1472.1 1483.4,1474.1 1489.0,1482.6 1494.0,1503.7 1497.0,1519.8 1499.4,1528.2 1502.4,1516.8 1509.0,1486.6 1514.4,1470.5 1519.4,1479.0 1524.4,1458.5 1529.6,1420.7 1535.0,1412.2 1540.0,1435.3 1545.4,1459.5 1550.6,1474.5 1556.0,1484.6 1561.0,1498.7 1566.0,1518.4 1571.0,1520.8 1576.0,1508.7 1581.0,1498.7 1586.6,1493.2 1592.0,1472.5 1597.0,1446.4 1602.0,1428.9 1607.4,1425.3 1612.4,1422.7 1617.0,1429.3 1623.0,1452.4 1628.0,1470.5 1633.0,1474.1 1638.0,1483.6 1643.6,1492.6 1649.0,1485.2 1654.0,1470.5 1659.0,1459.5 1664.4,1471.5 1669.4,1500.7 1674.6,1519.8 1680.0,1523.4 1685.2,1524.0 1690.0,1510.7 1695.4,1477.6 1700.4,1454.4 1705.4,1438.4 1710.6,1425.9 1716.0,1423.7 1721.4,1443.4 1726.4,1465.5 1731.6,1480.6 1736.6,1491.6 1742.0,1504.3 1747.0,1508.1 1752.0,1489.6 1757.0,1472.5 1762.4,1477.2 1767.6,1487.6 1772.6,1486.6 1778.0,1475.5 1783.4,1462.5 1788.4,1463.1 1793.4,1481.6 1798.6,1490.6 1803.6,1473.9 1808.6,1457.1 1813.6,1459.5 1819.0,1468.5 1824.0,1472.5 1829.4,1482.0 1834.6,1494.0 1839.6,1491.2 1845.0,1481.2 1850.0,1480.6 1855.4,1483.2 1860.6,1479.6 1865.6,1469.5 1871.0,1456.5 1876.0,1451.4 1881.4,1454.4 1886.4,1454.4 1891.6,1453.8 1897.0,1460.1 1902.0,1458.9 1907.0,1447.4 1912.4,1449.0 1917.6,1467.5 1922.6,1488.2 1928.0,1501.1 1933.0,1492.0 1938.0,1474.9 1943.4,1474.5 1948.4,1486.2 1953.6,1485.2 1958.6,1470.5 1964.0,1462.5 1969.0,1462.1 1974.0,1459.9 1979.4,1468.1 1984.4,1479.6 1989.6,1474.9 1994.6,1473.9 2000.0,1490.2 2005.4,1495.6 2010.0,1488.2 2015.0,1490.6 2020.6,1495.6 2025.6,1485.2 2031.0,1474.5 2036.0,1477.2 2042.0,1483.6 2047.0,1478.6 2052.0,1470.9 2057.0,1470.1 2062.0,1468.1 2067.4,1468.5 2072.4,1478.6 2077.6,1476.6 2082.6,1457.5 2087.6,1441.0 2093.0,1453.4 2098.0,1485.6 2103.4,1495.0 2108.4,1474.9 2113.0,1466.5" fill="none" stroke="#808080" stroke-width="2.20" stroke-linejoin="round" stroke-linecap="butt"/>
<polyline points="304.4,1474.0 309.7,1474.2 314.8,1474.2 320.0,1474.2 324.0,1474.3 330.3,1473.7 334.0,1473.4 340.7,1474.1 346.0,1474.7 351.0,1474.6 356.2,1474.3 361.3,1474.1 368.0,1473.8 371.7,1473.8 376.8,1473.7 384.0,1473.6 387.2,1473.7 392.3,1474.0 397.5,1474.2 400.0,1474.3 402.7,1474.2 407.8,1474.2 413.0,1474.2 420.0,1474.0 423.3,1473.9 428.5,1473.6 433.6,1473.4 438.0,1473.2 444.0,1473.6 449.1,1474.1 452.0,1474.3 454.3,1474.3 459.5,1474.3 464.6,1474.3 470.0,1474.3 475.0,1474.1 480.1,1473.9 485.3,1473.6 492.0,1473.4 495.6,1473.5 500.8,1473.6 506.0,1473.7 510.0,1473.8 516.3,1474.0 521.5,1474.2 526.0,1474.3 531.8,1473.9 537.0,1473.5 542.0,1473.2 547.3,1473.6 554.0,1474.0 557.6,1473.9 562.8,1473.6 568.0,1473.4 573.1,1473.5 578.3,1473.5 584.0,1473.6 588.6,1473.9 593.8,1474.3 600.0,1474.7 604.1,1474.6 609.3,1474.5 614.5,1474.3 620.0,1474.0 624.8,1473.8 630.0,1473.6 636.0,1473.4 640.3,1473.5 645.5,1473.6 650.0,1473.6 655.8,1473.8 661.0,1474.0 666.0,1474.0 672.0,1472.8 676.5,1471.4 681.0,1470.4 686.0,1471.0 691.0,1475.1 696.0,1481.5 701.0,1485.5 706.0,1481.5 711.0,1473.8 716.4,1469.4 721.4,1467.4 726.6,1465.8 732.0,1468.0 737.0,1474.5 743.0,1481.1 747.6,1480.5 753.0,1474.0 758.4,1468.4 763.6,1467.4 769.0,1471.4 774.0,1478.5 779.0,1483.1 784.0,1479.1 789.0,1470.0 794.4,1466.8 799.4,1473.0 804.4,1480.1 809.6,1480.5 815.0,1473.0 820.0,1466.4 825.4,1464.8 830.6,1470.4 835.6,1478.5 841.0,1482.9 846.0,1480.5 851.0,1474.5 856.0,1470.0 861.0,1469.4 866.4,1473.0 872.0,1476.5 876.6,1476.5 882.0,1473.0 887.4,1469.8 892.4,1470.8 898.0,1475.9 903.0,1480.1 908.0,1480.5 913.0,1477.1 918.6,1471.8 923.6,1470.0 929.0,1472.4 934.0,1475.5 939.0,1476.5 944.0,1475.5 949.4,1473.0 954.4,1471.4 959.4,1473.0 965.0,1475.5 970.0,1476.5 975.0,1475.1 980.0,1472.8 985.6,1470.0 990.6,1467.8 995.0,1467.0 1000.0,1470.0 1006.0,1475.1 1011.0,1478.1 1016.0,1478.9 1021.0,1479.5 1026.4,1482.1 1032.0,1484.9 1036.6,1483.5 1042.0,1478.5 1047.4,1473.0 1052.6,1470.0 1058.0,1468.4 1062.4,1468.0 1067.6,1469.4 1073.0,1473.0 1078.0,1475.1 1083.0,1471.8 1088.4,1466.4 1093.4,1466.4 1098.6,1471.8 1104.0,1476.1 1109.0,1475.9 1114.4,1474.5 1119.4,1475.5 1124.6,1476.5 1130.0,1475.1 1135.0,1475.1 1140.4,1480.1 1145.4,1484.1 1150.6,1479.9 1156.0,1472.0 1161.0,1470.4 1166.0,1473.0 1171.4,1474.5 1176.0,1473.4 1182.7,1471.5 1187.0,1469.8 1192.0,1467.0 1197.0,1467.4 1202.4,1471.8 1207.6,1475.5 1212.6,1475.9 1217.6,1473.0 1223.0,1470.8 1227.6,1471.8 1233.0,1477.5 1238.4,1482.5 1243.6,1481.1 1248.6,1475.1 1254.0,1470.4 1259.0,1470.4 1264.0,1473.0 1269.4,1476.1 1274.4,1477.1 1279.4,1474.0 1284.6,1466.4 1289.6,1460.0 1295.0,1462.4 1300.0,1473.0 1305.4,1482.5 1310.6,1483.9 1316.0,1475.5 1321.0,1467.0 1326.0,1465.8 1331.4,1473.0 1336.6,1482.5 1342.0,1487.9 1347.0,1485.1 1352.0,1479.1 1357.0,1475.9 1362.0,1477.5 1367.6,1481.1 1372.6,1483.1 1378.0,1482.1 1383.0,1479.5 1388.4,1477.1 1393.4,1477.1 1398.6,1479.9 1403.6,1481.1 1409.0,1476.9 1414.0,1469.0 1419.4,1462.4 1424.4,1460.4 1429.6,1462.0 1435.0,1464.0 1440.0,1463.4 1445.0,1460.4 1450.4,1458.0 1455.6,1459.8 1460.6,1464.8 1466.0,1471.4 1471.0,1476.5 1476.0,1477.7 1481.0,1476.1 1486.4,1473.4 1491.6,1471.8 1496.6,1472.4 1502.0,1474.5 1507.0,1475.5 1512.0,1474.9 1518.0,1473.4 1523.0,1473.0 1528.0,1473.4 1533.0,1474.9 1538.0,1478.5 1543.0,1485.5 1548.0,1495.6 1553.4,1508.6 1558.6,1520.1 1563.6,1524.3 1569.0,1519.7 1574.0,1505.6 1579.0,1485.5 1584.0,1462.4 1589.0,1440.3 1594.4,1423.2 1599.4,1414.2 1604.4,1413.1 1609.6,1421.2 1614.6,1438.3 1620.0,1453.3 1623.0,1466.4 1626.0,1477.5 1631.0,1491.5 1636.4,1496.2 1641.4,1493.1 1646.6,1485.5 1651.6,1479.1 1657.0,1476.1 1662.0,1476.9 1667.4,1481.5 1672.4,1488.5 1677.4,1495.6 1682.4,1500.0 1687.6,1500.6 1692.6,1496.2 1698.0,1483.5 1703.0,1467.4 1708.4,1449.3 1713.6,1436.7 1719.0,1430.2 1724.0,1432.2 1729.0,1442.9 1734.0,1459.4 1739.0,1476.5 1744.0,1491.5 1749.4,1502.6 1755.0,1506.6 1760.0,1505.2 1765.0,1500.0 1770.4,1491.1 1776.0,1481.5 1781.0,1475.1 1786.0,1470.4 1791.4,1467.0 1796.6,1464.8 1801.6,1464.0 1807.0,1464.8 1813.0,1467.4 1819.0,1470.0 1823.3,1471.8 1826.0,1472.8 1828.5,1473.8 1832.0,1474.9 1838.0,1475.5 1846.0,1474.7 1849.1,1474.4 1853.0,1474.0 1859.0,1473.0 1864.0,1471.2 1869.0,1469.0 1874.0,1467.8 1879.0,1468.0 1884.0,1470.4 1890.0,1474.5 1896.0,1478.1 1902.0,1481.1 1908.0,1482.5 1913.0,1482.5 1918.0,1481.5 1921.5,1480.1 1924.0,1478.9 1926.6,1477.6 1931.0,1475.5 1938.0,1472.0 1942.1,1470.1 1945.0,1469.0 1952.0,1467.8 1958.0,1468.4 1962.8,1469.5 1966.0,1470.4 1974.0,1472.4 1978.3,1473.7 1982.0,1474.9 1988.0,1476.3 1994.0,1476.5 1998.9,1475.8 2002.0,1475.1 2010.0,1473.0 2014.4,1472.2 2018.0,1471.6 2026.0,1471.0 2029.9,1471.0 2034.0,1471.0 2040.0,1471.4 2046.0,1473.0 2052.0,1476.1 2055.8,1478.8 2059.0,1481.1 2066.0,1484.5 2073.0,1485.7 2076.4,1485.0 2079.0,1484.1 2081.6,1482.8 2086.0,1479.9 2093.0,1474.5 2097.1,1472.3 2100.0,1471.0 2107.0,1468.0 2113.0,1466.0" fill="none" stroke="#808080" stroke-width="2.20" stroke-linejoin="round" stroke-linecap="butt"/>
<polyline points="304.4,1474.0 309.7,1474.3 314.0,1474.4 320.0,1473.3 324.0,1472.8 330.0,1474.0 335.0,1476.4 340.0,1475.8 345.0,1472.8 350.0,1471.9 356.0,1473.6 361.3,1473.2 365.0,1473.0 371.7,1474.5 376.0,1475.4 382.0,1473.3 386.0,1471.9 392.0,1471.5 397.5,1472.8 402.7,1474.8 406.0,1475.4 413.0,1474.1 418.0,1473.4 423.3,1473.9 430.0,1474.6 433.6,1473.8 440.0,1472.1 444.0,1472.7 450.0,1473.8 454.3,1473.3 458.0,1473.0 464.6,1474.0 468.0,1474.4 475.0,1473.1 478.0,1472.8 485.3,1474.6 490.0,1475.6 495.6,1474.8 500.8,1473.4 506.0,1472.1 510.0,1471.7 516.3,1473.7 520.0,1474.6 526.6,1474.4 532.0,1474.2 537.0,1473.8 541.0,1473.6 547.3,1475.1 552.0,1476.2 557.6,1475.1 564.0,1473.8 568.0,1474.3 573.1,1475.5 576.0,1475.8 583.5,1473.3 587.0,1472.6 593.8,1474.2 598.0,1475.0 604.1,1473.8 608.0,1473.2 614.5,1473.7 619.6,1474.5 624.0,1474.8 630.0,1474.4 635.1,1473.8 640.0,1473.6 645.5,1473.6 652.0,1473.8 655.8,1473.3 660.0,1472.4 666.1,1470.8 670.0,1470.3 676.0,1471.3 681.6,1474.2 684.0,1476.0 686.8,1478.7 690.0,1482.0 696.0,1486.0 701.0,1485.4 706.0,1482.8 711.6,1476.8 716.4,1464.3 721.6,1453.9 727.0,1458.7 732.0,1471.3 737.0,1476.8 743.6,1481.3 747.6,1482.4 753.0,1475.0 758.0,1462.9 763.4,1463.7 768.4,1476.4 773.6,1486.4 778.6,1485.4 783.6,1478.0 789.0,1471.3 794.0,1467.7 799.0,1466.7 804.0,1469.9 809.4,1477.0 814.6,1480.4 819.6,1475.8 825.0,1470.7 830.0,1472.4 835.6,1478.4 840.6,1482.0 845.6,1479.8 850.6,1468.9 856.0,1458.3 861.4,1457.3 866.4,1469.3 871.4,1482.0 876.6,1485.8 882.0,1479.8 887.0,1473.4 892.4,1473.0 897.4,1478.0 902.6,1483.0 907.6,1482.0 913.0,1475.0 918.6,1467.3 923.6,1463.3 928.6,1464.3 933.6,1470.7 938.6,1476.4 943.6,1477.8 949.0,1475.8 954.0,1473.4 959.4,1473.0 964.4,1474.8 969.6,1477.4 974.6,1475.4 979.6,1464.9 984.6,1453.9 990.0,1453.9 995.0,1466.3 1000.4,1481.4 1005.4,1491.4 1011.0,1495.1 1016.0,1493.5 1021.0,1490.0 1026.4,1486.4 1031.4,1481.0 1036.4,1472.4 1042.0,1464.7 1047.0,1462.9 1052.0,1461.9 1057.0,1461.3 1062.0,1465.3 1067.6,1473.4 1072.6,1477.4 1077.6,1475.0 1083.0,1470.7 1088.4,1468.3 1093.4,1468.7 1098.6,1472.4 1104.0,1477.8 1109.0,1481.4 1114.0,1479.4 1119.4,1476.8 1124.4,1479.0 1129.6,1485.4 1135.0,1491.0 1140.0,1489.0 1145.4,1481.0 1150.6,1477.4 1155.6,1477.8 1160.6,1475.0 1166.0,1466.3 1171.0,1462.7 1176.0,1459.9 1182.7,1451.7 1187.0,1448.6 1192.0,1454.3 1197.0,1460.9 1202.0,1465.3 1207.0,1475.4 1212.0,1488.4 1217.6,1495.1 1222.6,1494.9 1228.0,1493.1 1233.0,1489.0 1238.0,1481.4 1243.6,1471.7 1248.6,1466.3 1254.0,1464.3 1259.0,1463.7 1264.0,1462.3 1269.4,1460.7 1274.4,1459.7 1279.4,1459.5 1284.6,1462.3 1289.6,1470.3 1295.0,1478.4 1300.0,1481.4 1305.4,1480.4 1310.6,1478.4 1316.0,1478.4 1321.0,1484.4 1326.0,1496.5 1331.0,1502.5 1336.0,1496.5 1341.6,1486.8 1346.6,1483.4 1352.0,1485.4 1357.0,1485.4 1362.0,1481.0 1367.4,1474.4 1372.6,1469.3 1377.6,1467.9 1383.0,1469.7 1388.0,1472.4 1393.0,1473.2 1398.4,1470.3 1403.4,1466.3 1408.6,1462.3 1414.0,1456.7 1419.4,1450.6 1424.4,1447.2 1429.6,1447.2 1435.0,1449.2 1440.0,1453.3 1445.4,1463.3 1450.4,1476.4 1455.6,1489.4 1460.6,1494.1 1465.0,1492.0 1470.0,1486.4 1475.0,1480.4 1480.4,1474.0 1485.4,1465.9 1491.0,1457.3 1496.0,1451.2 1501.4,1451.6 1506.6,1462.3 1512.0,1481.4 1517.0,1502.5 1522.0,1520.6 1527.4,1532.7 1532.4,1536.3 1537.6,1532.7 1543.0,1521.6 1548.0,1502.5 1553.0,1476.4 1558.6,1448.2 1563.6,1432.2 1568.6,1423.7 1574.0,1423.5 1579.4,1433.2 1584.6,1449.8 1590.0,1466.9 1595.0,1481.4 1600.0,1491.4 1605.0,1495.5 1610.0,1492.9 1615.0,1483.4 1620.0,1471.3 1623.0,1461.3 1627.0,1451.2 1631.4,1444.2 1637.0,1440.2 1642.0,1438.2 1646.6,1437.6 1652.0,1443.2 1657.0,1455.3 1662.0,1470.3 1667.0,1487.4 1672.0,1503.5 1677.0,1514.2 1682.4,1520.0 1687.4,1519.2 1692.6,1513.6 1698.0,1504.5 1703.0,1494.5 1708.0,1484.0 1713.0,1476.4 1718.0,1470.9 1723.4,1466.9 1729.0,1464.3 1734.0,1463.7 1739.4,1462.3 1744.4,1459.3 1749.4,1456.3 1754.4,1455.9 1760.0,1456.9 1765.4,1456.7 1770.4,1455.9 1776.0,1459.3 1781.0,1467.3 1786.0,1477.4 1791.0,1486.4 1796.0,1494.1 1801.0,1499.9 1806.0,1501.1 1811.0,1496.1 1816.4,1488.4 1821.4,1483.0 1827.0,1479.4 1832.0,1477.0 1837.4,1475.0 1843.0,1473.4 1848.0,1474.0 1854.0,1475.0 1859.0,1475.8 1864.0,1476.2 1869.0,1475.6 1874.0,1473.8 1879.0,1471.3 1884.0,1467.3 1889.0,1460.3 1894.0,1454.9 1899.0,1453.9 1904.0,1455.7 1909.4,1458.9 1914.4,1464.3 1919.4,1472.4 1924.6,1479.8 1930.0,1483.0 1935.0,1482.4 1940.0,1478.0 1945.4,1472.4 1950.0,1469.9 1952.5,1469.7 1956.0,1469.3 1961.0,1468.3 1966.0,1468.3 1971.4,1471.3 1977.0,1474.4 1983.0,1476.0 1989.0,1477.2 1995.0,1477.8 2001.0,1477.8 2004.1,1477.2 2007.0,1476.4 2012.0,1474.8 2014.4,1474.4 2018.0,1474.2 2024.0,1475.8 2029.0,1477.2 2034.0,1478.4 2040.0,1481.4 2045.0,1485.0 2049.6,1487.4 2054.0,1487.0 2059.0,1484.4 2064.0,1482.8 2069.0,1482.0 2075.0,1479.4 2081.0,1475.0 2086.0,1472.4 2092.0,1470.7 2099.0,1467.9 2102.3,1466.3 2106.0,1464.3 2113.0,1460.7" fill="none" stroke="#808080" stroke-width="2.20" stroke-linejoin="round" stroke-linecap="butt"/>
<polyline points="304.4,1474.3 310.0,1474.7 314.8,1474.1 320.0,1473.5 325.2,1474.2 330.0,1474.9 335.5,1474.0 340.0,1473.3 345.8,1473.9 350.0,1474.3 356.2,1474.3 360.0,1474.3 366.5,1473.8 372.0,1473.5 376.8,1474.0 383.0,1474.7 387.2,1474.5 392.3,1474.1 396.0,1473.9 402.7,1473.3 408.0,1473.1 413.0,1473.4 420.0,1474.1 423.3,1474.2 428.5,1474.4 433.6,1474.6 440.0,1474.7 444.0,1474.3 449.1,1473.3 452.0,1473.1 454.3,1473.1 459.5,1473.3 463.0,1473.5 469.8,1475.0 475.0,1475.9 480.1,1474.8 486.0,1473.5 490.5,1473.8 497.0,1474.5 500.8,1474.1 508.0,1473.1 511.1,1473.2 516.3,1474.0 522.0,1474.5 526.6,1474.3 531.8,1474.0 536.0,1473.9 542.1,1474.1 547.3,1474.5 552.0,1474.7 557.6,1473.9 564.0,1472.9 568.0,1473.3 573.1,1474.3 578.0,1474.9 583.5,1474.7 590.0,1474.3 593.8,1474.0 599.0,1473.7 604.1,1473.4 608.0,1473.3 614.5,1473.5 619.6,1473.8 624.0,1473.9 630.0,1473.7 635.1,1473.5 640.3,1473.3 644.0,1473.3 650.6,1473.4 655.8,1473.6 660.0,1473.7 666.1,1473.8 672.0,1473.9 677.0,1471.9 682.4,1469.6 687.4,1469.8 692.4,1475.7 698.0,1482.9 703.0,1483.7 708.0,1478.3 713.0,1473.3 718.0,1471.7 723.4,1468.2 728.4,1463.2 733.4,1464.6 738.6,1475.3 744.4,1484.3 749.4,1483.7 754.4,1475.3 760.0,1468.8 765.0,1470.3 770.0,1473.9 775.6,1475.7 780.6,1474.3 785.6,1472.9 791.0,1473.7 796.0,1475.9 801.4,1478.3 806.4,1479.3 811.6,1476.3 816.6,1470.3 821.6,1466.8 827.0,1469.2 832.0,1474.9 837.4,1479.5 842.4,1479.9 847.6,1475.9 852.6,1471.3 858.0,1469.2 863.0,1470.3 868.4,1473.7 873.6,1476.3 878.6,1475.7 883.6,1472.3 888.6,1471.7 894.0,1474.7 899.0,1478.3 904.0,1479.7 909.4,1477.7 914.6,1473.9 919.6,1471.3 925.0,1470.9 930.4,1472.9 935.4,1474.9 940.6,1475.7 946.0,1474.3 951.0,1473.3 956.0,1473.1 961.6,1474.3 967.0,1475.3 972.0,1474.9 977.0,1473.7 982.0,1471.7 987.4,1468.8 992.4,1467.2 997.6,1469.2 1002.6,1473.9 1008.0,1478.3 1013.0,1480.3 1018.0,1479.9 1023.6,1478.9 1028.6,1478.7 1033.6,1479.3 1039.0,1478.7 1044.0,1474.3 1049.4,1468.2 1054.0,1466.2 1059.4,1470.9 1064.6,1475.7 1069.6,1476.3 1074.6,1473.7 1080.0,1471.3 1085.0,1469.8 1090.0,1469.2 1095.6,1469.2 1100.6,1471.9 1106.0,1474.9 1111.0,1475.3 1116.0,1472.9 1121.4,1471.9 1126.6,1474.9 1131.6,1481.3 1137.0,1484.7 1142.0,1481.3 1147.4,1476.3 1152.4,1474.7 1157.4,1475.7 1162.4,1475.7 1168.0,1473.7 1173.0,1470.9 1178.0,1467.8 1184.0,1465.8 1188.0,1466.8 1193.6,1472.3 1199.0,1476.3 1204.0,1475.7 1209.4,1472.3 1214.4,1469.2 1219.4,1469.6 1224.6,1473.9 1230.0,1478.3 1235.4,1479.5 1240.0,1478.9 1245.4,1476.3 1250.4,1473.9 1255.4,1475.7 1260.6,1479.9 1266.0,1480.3 1271.0,1473.3 1276.4,1465.8 1281.4,1462.8 1286.4,1465.8 1291.6,1471.7 1297.0,1476.9 1302.4,1477.3 1307.4,1472.9 1312.4,1467.6 1317.4,1467.2 1322.6,1472.3 1328.0,1479.7 1333.0,1484.3 1338.0,1484.9 1343.6,1482.3 1348.6,1479.3 1353.6,1478.9 1359.0,1480.7 1364.0,1481.7 1369.4,1481.3 1374.4,1479.3 1379.4,1477.3 1384.4,1476.3 1390.0,1477.1 1395.0,1477.9 1400.4,1475.7 1405.4,1469.2 1410.6,1461.8 1416.0,1458.2 1421.0,1459.8 1426.6,1462.2 1431.6,1462.2 1436.6,1459.8 1441.6,1458.2 1447.0,1459.6 1452.0,1465.2 1457.0,1474.3 1462.0,1480.9 1467.4,1482.9 1472.4,1480.3 1477.4,1476.7 1482.6,1475.9 1488.0,1479.3 1493.4,1483.3 1498.4,1484.9 1504.0,1483.3 1509.0,1478.9 1514.4,1469.6 1519.4,1461.8 1524.4,1457.6 1529.4,1456.6 1534.6,1460.8 1540.0,1472.3 1545.0,1488.3 1550.0,1506.4 1555.4,1522.5 1560.0,1528.5 1564.0,1526.5 1570.0,1512.5 1575.0,1492.4 1580.4,1465.2 1585.6,1439.1 1591.0,1420.0 1596.4,1412.6 1601.4,1416.0 1606.6,1429.0 1612.0,1448.1 1617.0,1468.2 1623.0,1483.3 1627.4,1494.4 1633.0,1497.2 1638.0,1493.4 1643.4,1486.9 1648.6,1481.3 1654.0,1478.7 1659.0,1480.7 1664.0,1487.3 1669.0,1495.4 1674.0,1501.0 1679.4,1502.4 1684.4,1497.0 1689.4,1482.3 1694.4,1463.2 1699.6,1445.1 1705.0,1433.1 1710.4,1426.6 1715.6,1429.4 1720.6,1443.1 1725.6,1461.2 1730.6,1478.3 1735.6,1492.4 1741.0,1504.4 1746.4,1509.4 1751.4,1508.0 1756.4,1501.0 1761.6,1492.0 1767.0,1483.3 1772.4,1475.3 1778.0,1468.8 1783.0,1465.8 1789.0,1464.8 1794.0,1463.8 1799.0,1463.4 1804.0,1464.2 1809.0,1466.2 1814.0,1469.6 1819.0,1472.7 1824.0,1474.7 1830.0,1475.7 1833.6,1476.0 1836.0,1476.3 1838.8,1476.8 1842.0,1477.3 1848.0,1477.7 1853.0,1476.9 1859.0,1473.7 1865.0,1470.3 1872.0,1468.8 1875.0,1468.4 1878.0,1468.2 1882.0,1468.8 1885.3,1470.2 1888.0,1471.7 1890.5,1472.8 1894.0,1474.3 1900.0,1475.9 1908.0,1476.9 1911.1,1477.5 1915.0,1478.3 1922.0,1478.9 1926.6,1478.3 1929.0,1477.9 1931.8,1477.6 1936.0,1477.1 1942.0,1475.7 1949.0,1473.3 1952.5,1472.0 1956.0,1470.9 1963.0,1468.8 1969.0,1467.8 1974.0,1468.8 1980.0,1471.9 1983.5,1473.4 1986.0,1474.3 1988.6,1474.9 1992.0,1475.3 2000.0,1475.3 2004.1,1474.9 2008.0,1474.3 2016.0,1472.9 2019.6,1472.9 2024.0,1472.9 2030.0,1474.3 2036.0,1476.9 2040.3,1478.3 2046.0,1479.7 2052.0,1480.3 2055.8,1480.3 2059.0,1480.3 2065.0,1478.9 2071.0,1475.9 2077.0,1472.7 2083.0,1470.3 2086.8,1469.6 2090.0,1469.2 2098.0,1468.2 2104.0,1469.2 2107.4,1470.1 2113.0,1471.9" fill="none" stroke="#808080" stroke-width="2.20" stroke-linejoin="round" stroke-linecap="butt"/>
<polyline points="304.4,1473.2 309.0,1471.6 314.8,1473.6 319.0,1474.8 325.2,1474.3 330.0,1474.0 335.5,1474.7 340.0,1475.2 345.8,1473.5 351.0,1472.2 356.2,1473.5 362.0,1475.2 366.5,1474.3 372.0,1473.2 376.8,1474.1 384.0,1475.8 387.2,1475.5 392.3,1474.2 397.0,1473.4 402.7,1473.2 406.0,1473.2 413.0,1474.3 418.0,1475.0 423.3,1473.3 428.0,1472.0 433.6,1473.6 438.0,1474.8 444.0,1474.3 448.0,1474.0 454.3,1475.6 458.0,1476.4 464.6,1473.6 469.0,1472.2 475.0,1473.9 480.1,1476.2 484.0,1477.0 490.5,1475.3 497.0,1473.6 500.8,1473.5 506.0,1473.4 509.0,1473.4 516.3,1475.4 521.0,1476.4 526.6,1475.3 532.0,1474.0 537.0,1473.3 542.0,1473.0 547.3,1473.7 554.0,1474.8 557.6,1474.1 562.8,1472.3 566.0,1471.8 573.1,1474.8 577.0,1476.0 583.5,1474.7 588.0,1474.0 593.8,1474.1 598.0,1474.2 604.1,1473.6 609.0,1473.2 614.5,1473.4 619.6,1473.9 622.0,1474.2 624.8,1474.5 630.0,1475.2 635.0,1475.6 640.3,1474.4 646.0,1473.2 650.6,1473.3 656.0,1473.4 661.0,1472.2 666.0,1470.6 671.3,1469.7 674.0,1469.6 676.5,1469.6 681.6,1470.2 686.0,1471.2 691.0,1475.6 696.0,1487.2 701.0,1496.3 706.0,1488.2 711.0,1473.2 716.4,1463.1 721.6,1459.1 727.0,1459.7 732.0,1467.1 737.0,1476.2 743.0,1483.8 748.0,1486.6 753.0,1477.2 758.4,1460.7 763.4,1457.7 768.6,1473.2 773.6,1488.2 778.6,1487.8 783.6,1476.2 789.0,1465.1 794.4,1462.5 799.6,1468.1 804.6,1479.2 809.6,1489.7 815.0,1484.8 820.0,1465.1 825.4,1454.5 830.6,1464.5 835.6,1482.2 840.6,1493.3 845.6,1488.2 851.0,1474.2 856.4,1463.1 861.4,1459.7 866.4,1465.7 872.0,1475.8 877.0,1479.6 882.0,1476.6 887.4,1472.6 892.4,1473.8 897.6,1480.2 903.0,1487.8 908.0,1486.8 913.4,1475.8 918.6,1465.1 923.6,1459.1 928.6,1460.5 934.0,1470.2 939.0,1479.2 944.0,1481.8 949.4,1479.2 955.0,1475.2 959.4,1473.8 965.0,1475.8 970.0,1476.6 975.0,1474.2 980.0,1468.6 985.0,1460.7 990.4,1456.1 995.6,1460.1 1000.6,1472.2 1006.0,1486.8 1011.4,1491.7 1016.0,1487.6 1021.4,1484.2 1026.4,1483.8 1031.6,1480.8 1037.0,1474.8 1042.4,1471.6 1047.0,1469.8 1052.0,1467.1 1057.4,1465.1 1062.4,1467.1 1068.0,1470.8 1073.0,1474.6 1078.0,1475.8 1083.0,1473.2 1088.4,1469.6 1093.4,1469.4 1098.6,1472.2 1104.0,1475.2 1109.4,1476.8 1114.4,1476.2 1119.4,1475.4 1124.6,1477.8 1130.0,1482.2 1135.4,1486.2 1140.4,1487.6 1145.4,1484.6 1151.0,1479.8 1156.0,1479.2 1161.0,1478.8 1166.0,1474.8 1171.4,1469.6 1177.0,1465.1 1182.7,1458.7 1186.0,1456.1 1191.6,1454.7 1197.0,1458.1 1202.4,1462.5 1207.4,1467.7 1212.4,1478.2 1217.6,1487.8 1223.0,1491.7 1228.0,1489.9 1234.0,1485.2 1239.0,1483.2 1244.0,1481.2 1249.0,1476.2 1254.0,1471.6 1259.4,1469.8 1264.4,1470.2 1269.4,1468.8 1274.4,1465.7 1280.0,1462.1 1285.0,1460.7 1290.0,1460.7 1295.4,1463.7 1300.6,1470.6 1305.6,1476.6 1311.0,1478.8 1316.0,1477.6 1321.0,1475.8 1326.4,1477.2 1331.4,1484.8 1336.6,1492.7 1341.6,1492.9 1347.0,1489.3 1352.4,1486.2 1357.4,1484.6 1362.0,1482.2 1367.4,1477.8 1372.6,1474.2 1378.0,1472.2 1383.0,1471.8 1388.6,1473.8 1393.6,1476.2 1398.6,1476.4 1403.6,1474.2 1409.0,1470.6 1414.0,1464.5 1419.4,1455.7 1424.4,1450.1 1429.4,1449.7 1435.0,1451.5 1440.0,1453.5 1445.4,1457.7 1450.4,1465.1 1455.6,1475.2 1460.6,1485.8 1466.0,1494.3 1471.0,1499.7 1476.0,1499.5 1481.4,1495.9 1486.4,1491.9 1491.6,1487.2 1496.6,1479.2 1502.0,1467.1 1507.0,1456.5 1512.0,1449.1 1517.4,1446.0 1522.4,1448.5 1527.4,1454.5 1532.6,1464.5 1538.0,1476.2 1543.0,1486.2 1548.4,1493.9 1553.4,1498.3 1558.6,1498.3 1563.6,1495.9 1569.0,1490.9 1574.0,1484.6 1579.4,1479.6 1584.4,1480.2 1589.6,1484.6 1595.0,1488.9 1600.0,1489.3 1605.0,1484.6 1610.0,1471.2 1615.0,1455.7 1623.0,1440.0 1627.0,1433.0 1631.4,1429.0 1636.4,1426.9 1641.4,1429.6 1646.4,1435.4 1651.6,1446.0 1657.0,1461.1 1662.0,1478.2 1667.0,1497.3 1672.0,1515.4 1677.4,1528.9 1683.0,1536.5 1688.0,1533.5 1693.0,1520.4 1698.0,1498.3 1703.0,1473.2 1708.0,1450.1 1713.0,1434.6 1718.6,1428.4 1724.0,1432.0 1729.0,1441.0 1734.0,1453.1 1739.4,1465.1 1744.4,1474.8 1749.4,1481.6 1755.0,1485.6 1760.0,1487.8 1765.4,1489.9 1771.0,1491.7 1776.0,1492.3 1781.0,1490.3 1786.0,1484.8 1791.4,1479.2 1796.6,1474.8 1801.6,1472.6 1806.6,1473.2 1812.0,1476.2 1817.0,1478.8 1822.0,1481.2 1827.0,1482.2 1832.0,1479.8 1837.4,1473.8 1842.6,1468.1 1848.0,1464.7 1853.0,1464.1 1858.0,1463.5 1863.4,1462.7 1868.6,1464.5 1874.0,1468.8 1879.0,1470.8 1884.0,1469.6 1889.0,1467.7 1894.0,1468.1 1899.4,1470.2 1905.0,1472.2 1910.0,1474.8 1915.0,1477.8 1920.0,1480.2 1925.0,1481.2 1930.0,1480.2 1935.0,1476.6 1940.0,1471.2 1945.0,1466.5 1950.0,1465.5 1952.5,1466.6 1955.0,1468.8 1957.6,1471.6 1960.0,1474.8 1962.8,1478.7 1965.4,1482.2 1968.0,1485.3 1970.4,1487.6 1973.1,1489.6 1976.0,1490.7 1981.0,1490.3 1983.5,1489.2 1986.0,1487.2 1988.6,1484.9 1991.0,1482.2 1996.0,1474.8 2001.0,1468.1 2006.0,1464.5 2009.3,1463.2 2012.0,1462.5 2014.4,1462.1 2018.0,1461.7 2023.0,1463.1 2029.0,1466.7 2035.0,1471.6 2040.0,1474.8 2045.0,1478.6 2050.0,1481.6 2054.4,1482.6 2059.0,1480.6 2064.0,1478.2 2070.0,1477.6 2076.0,1477.2 2083.0,1475.8 2086.8,1475.2 2090.0,1475.0 2096.0,1475.8 2101.0,1476.8 2107.0,1475.6 2113.0,1472.2" fill="none" stroke="#808080" stroke-width="2.20" stroke-linejoin="round" stroke-linecap="butt"/>
<polyline points="304.4,1473.7 309.7,1474.4 316.0,1474.7 320.0,1474.5 325.2,1474.0 330.0,1473.7 335.5,1473.7 340.7,1473.8 344.0,1473.9 351.0,1474.2 356.2,1474.4 360.0,1474.5 366.5,1474.3 371.7,1474.0 376.8,1473.7 380.0,1473.7 387.2,1474.0 392.3,1474.4 396.0,1474.5 402.7,1474.1 408.0,1473.9 413.0,1474.1 420.0,1474.5 423.3,1474.4 428.5,1474.0 434.0,1473.7 438.8,1473.8 446.0,1474.1 449.1,1474.1 454.3,1474.1 459.5,1474.1 464.0,1474.1 469.8,1473.8 475.0,1473.5 480.0,1473.3 485.3,1473.4 490.5,1473.5 495.6,1473.7 500.0,1473.9 506.0,1474.1 512.0,1474.3 516.3,1474.1 521.5,1473.8 528.0,1473.5 531.8,1473.6 537.0,1473.8 544.0,1474.1 547.3,1474.0 552.5,1473.9 557.6,1473.7 560.0,1473.7 562.8,1473.7 568.0,1473.9 574.0,1474.1 578.3,1473.9 584.0,1473.5 588.6,1473.8 596.0,1474.5 599.0,1474.4 604.1,1474.2 609.3,1473.9 612.0,1473.9 614.5,1473.9 619.6,1473.9 624.8,1473.9 628.0,1473.9 635.1,1473.5 640.3,1473.0 644.0,1472.9 650.6,1473.3 658.0,1473.7 661.0,1473.6 666.1,1473.1 670.0,1472.5 676.0,1470.1 681.6,1468.1 687.0,1470.7 692.0,1479.1 697.0,1487.8 702.0,1489.8 707.0,1482.1 712.4,1472.1 717.4,1465.0 722.4,1460.4 727.6,1460.0 732.6,1469.1 738.0,1480.1 744.0,1485.7 748.6,1484.1 754.0,1474.1 759.0,1465.4 764.4,1464.6 769.4,1473.1 774.6,1481.1 779.6,1482.5 784.6,1475.5 790.4,1468.1 795.4,1468.5 800.6,1477.5 806.0,1484.1 811.0,1483.7 816.0,1473.1 821.0,1461.0 826.4,1458.4 831.4,1468.5 836.4,1482.1 841.6,1489.2 846.6,1484.1 852.0,1471.1 857.6,1462.0 862.4,1464.0 867.4,1474.1 872.4,1481.1 877.4,1479.5 882.6,1472.5 888.0,1469.1 893.0,1472.5 898.0,1478.5 903.6,1482.7 909.0,1482.1 914.0,1476.1 919.4,1469.1 924.6,1465.4 929.6,1468.7 935.0,1474.5 940.6,1477.1 946.0,1475.7 951.0,1473.1 955.6,1471.7 960.6,1471.7 966.0,1473.5 971.0,1475.5 976.0,1474.7 981.0,1471.1 986.4,1467.1 991.4,1465.4 996.6,1466.0 1002.0,1470.1 1007.0,1476.1 1012.4,1481.5 1017.6,1484.7 1022.6,1487.6 1027.6,1488.2 1033.0,1485.5 1038.0,1480.1 1043.4,1473.1 1048.6,1466.0 1054.0,1462.4 1058.4,1462.0 1063.6,1464.6 1069.0,1469.7 1074.0,1475.1 1079.0,1477.1 1084.0,1473.7 1089.4,1467.5 1094.4,1465.0 1100.0,1470.5 1105.0,1475.1 1110.0,1476.1 1115.0,1476.1 1120.0,1478.1 1125.4,1479.5 1130.4,1477.1 1135.6,1477.5 1141.0,1483.7 1146.0,1486.6 1151.4,1479.1 1156.6,1472.1 1161.6,1470.1 1167.0,1470.7 1172.0,1469.1 1177.0,1467.5 1182.7,1468.7 1187.6,1469.7 1193.0,1467.7 1198.4,1466.0 1203.6,1470.1 1208.6,1475.7 1213.6,1478.7 1219.0,1477.1 1224.4,1474.1 1229.0,1475.1 1234.0,1480.1 1239.4,1484.1 1244.4,1482.5 1249.4,1476.7 1255.0,1470.1 1260.0,1467.1 1265.4,1468.7 1270.6,1471.5 1275.6,1472.1 1280.6,1469.7 1286.0,1463.0 1291.4,1457.6 1296.4,1461.0 1301.4,1474.1 1306.6,1486.6 1312.0,1489.2 1317.0,1477.1 1322.0,1467.1 1327.4,1465.0 1332.4,1474.5 1337.6,1487.8 1343.0,1495.8 1348.0,1493.8 1353.4,1484.5 1358.6,1477.5 1363.6,1476.1 1368.6,1479.1 1373.6,1482.5 1378.6,1483.7 1384.0,1481.1 1389.4,1475.1 1394.6,1469.7 1399.4,1470.5 1405.0,1472.1 1410.0,1470.1 1415.0,1464.0 1420.6,1457.0 1425.6,1455.0 1430.6,1458.0 1435.6,1462.4 1441.0,1465.0 1446.0,1464.0 1451.4,1461.6 1456.4,1461.6 1461.6,1466.5 1467.0,1472.5 1472.0,1476.5 1477.0,1476.1 1482.4,1471.1 1487.4,1465.6 1492.4,1464.0 1497.4,1467.1 1502.6,1475.7 1508.0,1485.5 1513.4,1491.8 1518.4,1493.2 1523.4,1490.6 1529.0,1486.6 1534.0,1485.1 1539.4,1487.2 1544.4,1492.6 1550.0,1500.2 1555.0,1508.3 1560.0,1514.7 1565.0,1515.3 1570.0,1505.2 1575.0,1487.2 1580.0,1464.0 1585.0,1439.9 1590.0,1421.8 1596.0,1413.4 1601.0,1415.8 1606.0,1426.9 1611.4,1441.9 1617.0,1457.0 1623.0,1472.1 1627.4,1481.1 1632.4,1486.6 1637.0,1487.2 1642.0,1483.1 1647.0,1477.1 1652.0,1472.7 1657.0,1471.7 1662.0,1475.5 1667.4,1485.1 1672.4,1497.2 1678.0,1509.3 1683.4,1517.3 1688.6,1520.3 1694.0,1516.3 1699.4,1502.2 1704.4,1479.1 1709.4,1452.0 1714.4,1427.9 1719.4,1412.4 1724.6,1412.4 1729.6,1427.9 1734.6,1452.0 1739.6,1475.1 1744.6,1494.2 1750.0,1509.3 1756.0,1515.3 1761.0,1511.3 1766.0,1502.2 1771.4,1490.2 1777.0,1478.7 1782.0,1470.1 1787.0,1463.6 1792.0,1460.0 1797.0,1458.4 1802.0,1459.0 1807.4,1462.0 1812.6,1467.1 1818.0,1472.5 1823.4,1478.1 1828.6,1481.7 1834.0,1483.1 1839.0,1482.1 1844.4,1479.5 1849.6,1476.1 1855.0,1472.5 1860.0,1469.5 1865.0,1467.7 1870.0,1467.1 1875.0,1468.1 1880.0,1470.1 1885.0,1473.1 1890.0,1475.7 1895.0,1477.7 1900.0,1478.7 1906.0,1478.7 1912.0,1477.7 1918.0,1476.1 1921.5,1475.3 1924.0,1474.7 1926.6,1474.1 1932.0,1473.1 1937.0,1472.1 1940.0,1471.5 1948.0,1469.5 1952.5,1468.1 1956.0,1467.1 1962.0,1465.8 1968.0,1465.6 1973.0,1467.7 1978.0,1471.1 1983.0,1475.1 1988.0,1478.7 1993.0,1481.7 1998.0,1482.9 2003.0,1482.5 2008.0,1480.1 2014.0,1476.1 2020.0,1472.1 2026.0,1469.1 2032.0,1467.5 2037.0,1467.7 2040.3,1469.0 2046.0,1473.7 2052.0,1479.1 2058.0,1484.1 2060.9,1485.9 2064.0,1487.2 2070.0,1488.2 2076.0,1486.6 2082.0,1482.7 2089.0,1477.1 2091.9,1474.7 2096.0,1471.7 2103.0,1467.7 2107.4,1465.8 2113.0,1464.0" fill="none" stroke="#808080" stroke-width="2.20" stroke-linejoin="round" stroke-linecap="butt"/>
<polyline points="304.0,1475.4 309.7,1475.4 312.0,1475.4 314.8,1474.7 322.0,1472.0 325.2,1472.7 330.3,1474.9 333.0,1475.4 335.5,1475.0 340.7,1473.0 343.0,1472.6 345.8,1472.8 351.0,1473.8 356.2,1475.1 362.0,1475.8 366.5,1475.3 371.7,1474.3 376.0,1473.8 382.0,1473.7 387.2,1473.6 392.3,1473.6 396.0,1473.6 402.7,1474.7 409.0,1475.8 413.0,1474.4 419.0,1471.8 423.3,1472.9 428.5,1475.4 433.0,1476.6 438.8,1475.1 444.0,1473.0 448.0,1472.2 454.3,1472.3 460.0,1472.6 464.6,1473.1 469.8,1474.1 475.0,1474.8 478.0,1475.0 485.3,1472.9 489.0,1472.2 495.6,1474.5 501.0,1476.2 506.0,1475.7 511.1,1474.7 516.3,1473.6 522.0,1473.0 526.6,1474.0 534.0,1476.0 537.0,1475.4 542.1,1473.1 547.0,1471.8 552.5,1472.7 558.0,1474.0 562.8,1474.5 568.0,1475.1 573.1,1475.6 578.3,1475.9 583.5,1476.2 587.0,1476.2 593.8,1474.6 599.0,1473.0 602.0,1472.6 609.3,1473.2 614.0,1473.6 619.6,1472.8 625.0,1472.0 630.0,1473.4 635.1,1475.7 638.0,1476.2 645.5,1474.9 652.0,1473.6 655.8,1473.4 661.0,1473.1 668.0,1473.0 671.3,1473.1 676.5,1473.7 681.6,1474.4 686.8,1475.1 692.0,1475.4 697.1,1473.9 702.3,1471.5 705.0,1471.0 707.4,1471.4 712.6,1474.0 718.0,1475.8 722.9,1474.2 730.0,1471.6 733.3,1472.5 740.0,1475.4 743.6,1475.1 748.8,1474.2 754.0,1473.6 759.1,1473.9 763.0,1474.2 769.4,1472.9 775.0,1471.8 780.0,1472.6 784.9,1475.5 791.0,1478.6 795.0,1477.4 800.4,1473.2 806.0,1470.0 811.0,1471.0 815.9,1474.0 821.0,1476.4 828.0,1475.6 831.4,1476.1 837.4,1477.4 841.8,1475.6 848.0,1472.6 852.0,1473.0 857.3,1475.5 862.6,1477.6 867.6,1475.0 874.0,1471.2 878.0,1471.8 883.1,1474.7 888.4,1477.2 893.4,1476.3 898.6,1474.6 904.0,1473.6 910.0,1473.6 914.1,1474.2 919.0,1475.0 924.4,1473.9 929.0,1473.0 936.0,1473.8 939.9,1473.3 945.0,1472.6 950.2,1474.5 956.0,1476.6 960.6,1474.9 967.0,1472.2 971.0,1472.6 976.1,1475.2 982.0,1478.0 987.0,1477.0 991.6,1474.5 997.0,1472.2 1001.9,1473.0 1008.0,1474.4 1012.2,1474.9 1017.4,1475.4 1022.0,1475.6 1028.0,1474.6 1032.9,1472.0 1039.0,1469.0 1044.0,1468.8 1048.4,1469.7 1053.6,1472.2 1058.7,1474.9 1064.0,1476.2 1069.1,1474.7 1075.0,1472.8 1079.4,1474.1 1086.0,1476.4 1089.7,1476.0 1096.0,1475.2 1100.1,1475.8 1106.0,1476.8 1110.4,1476.6 1115.6,1475.8 1120.0,1475.0 1125.9,1472.8 1131.4,1471.4 1136.2,1472.5 1142.0,1474.0 1146.6,1473.6 1152.0,1473.2 1156.9,1473.6 1160.0,1473.8 1167.2,1472.5 1173.0,1471.6 1177.6,1472.3 1180.0,1473.0 1182.7,1474.7 1188.0,1478.0 1193.0,1477.0 1198.2,1474.2 1204.0,1471.8 1208.6,1473.4 1216.0,1476.8 1218.9,1476.3 1224.0,1474.2 1229.0,1473.0 1234.4,1474.7 1241.0,1477.0 1245.0,1476.6 1249.9,1472.8 1255.6,1468.0 1260.0,1467.4 1265.4,1469.7 1272.0,1473.0 1275.7,1472.6 1280.9,1471.5 1284.0,1471.2 1291.2,1471.4 1296.4,1471.9 1299.0,1472.2 1301.5,1472.9 1306.7,1476.1 1313.0,1478.6 1317.0,1478.6 1320.0,1478.6 1327.4,1474.9 1332.0,1473.0 1337.7,1474.0 1343.0,1475.0 1348.0,1473.7 1353.6,1472.2 1358.4,1474.2 1365.0,1478.0 1368.7,1478.5 1373.0,1479.0 1379.0,1482.5 1385.0,1485.4 1390.0,1485.0 1394.5,1482.8 1399.0,1480.0 1404.9,1478.5 1410.0,1477.0 1415.2,1472.3 1421.0,1467.0 1425.5,1465.6 1430.0,1464.5 1435.9,1462.5 1440.0,1461.7 1446.2,1462.8 1450.0,1463.3 1458.0,1462.9 1461.7,1463.4 1468.0,1465.3 1472.0,1467.2 1477.2,1470.2 1482.0,1471.6 1488.0,1471.4 1492.7,1470.3 1498.0,1469.2 1503.0,1471.0 1508.2,1475.3 1514.0,1481.4 1518.5,1484.9 1524.0,1489.5 1529.0,1495.7 1534.0,1504.9 1540.0,1515.6 1545.0,1520.6 1549.0,1517.2 1554.0,1505.5 1560.0,1481.0 1566.0,1451.9 1571.0,1431.8 1576.0,1417.1 1580.6,1413.3 1586.0,1420.3 1592.0,1440.8 1598.0,1463.9 1603.0,1483.4 1608.0,1498.1 1612.0,1506.8 1617.0,1508.0 1623.0,1501.1 1628.0,1489.1 1633.0,1476.0 1638.0,1468.0 1643.0,1465.3 1649.0,1465.3 1654.0,1468.0 1658.0,1470.6 1663.0,1474.0 1669.0,1477.0 1674.0,1477.0 1679.0,1473.0 1684.0,1466.6 1689.0,1461.3 1695.0,1458.9 1700.0,1459.3 1706.0,1461.5 1709.7,1463.5 1712.0,1464.9 1714.8,1466.7 1718.0,1469.0 1724.0,1474.4 1732.0,1483.0 1735.5,1486.9 1740.0,1491.7 1747.0,1498.1 1752.0,1501.5 1757.0,1501.7 1762.0,1498.7 1768.0,1491.1 1771.6,1484.5 1774.0,1480.0 1776.8,1474.6 1780.0,1469.0 1786.0,1460.9 1792.0,1454.5 1798.0,1450.9 1803.0,1452.3 1809.0,1456.9 1815.0,1462.9 1818.1,1466.6 1824.0,1473.0 1829.0,1476.0 1835.0,1477.6 1838.8,1477.9 1842.0,1478.0 1850.0,1476.4 1854.3,1474.7 1858.0,1473.0 1865.0,1470.4 1872.0,1469.8 1875.0,1470.0 1879.0,1471.0 1885.0,1474.4 1891.0,1478.4 1897.0,1481.0 1903.0,1481.4 1906.0,1480.9 1909.0,1479.6 1916.0,1474.6 1922.0,1470.4 1926.6,1468.7 1929.0,1468.4 1931.8,1468.4 1936.0,1468.4 1942.0,1470.0 1947.0,1473.4 1953.0,1479.4 1958.0,1482.6 1964.0,1481.6 1970.0,1479.6 1973.1,1479.3 1980.0,1478.6 1983.5,1477.5 1987.0,1476.0 1994.0,1473.0 2000.0,1472.2 2004.1,1472.1 2010.0,1472.0 2014.4,1473.0 2020.0,1475.0 2024.8,1475.9 2030.0,1476.6 2035.1,1477.1 2040.0,1477.4 2045.4,1477.0 2048.0,1476.6 2050.6,1476.0 2056.0,1474.0 2060.9,1471.8 2064.0,1470.4 2071.0,1467.6 2076.4,1467.4 2080.0,1467.4 2088.0,1466.6 2093.0,1468.0 2098.0,1471.0 2104.0,1474.0 2109.0,1475.2 2113.0,1475.4" fill="none" stroke="#0000ff" stroke-width="2.20" stroke-linejoin="round" stroke-linecap="butt"/>
<polyline points="304.0,242.4 309.7,242.4 312.0,242.4 314.8,241.7 322.0,239.0 325.2,239.7 330.3,241.9 333.0,242.4 335.5,242.0 340.7,240.0 343.0,239.6 345.8,239.8 351.0,240.8 356.2,242.1 362.0,242.8 366.5,242.3 371.7,241.3 376.0,240.8 382.0,240.7 387.2,240.6 392.3,240.6 396.0,240.6 402.7,241.7 409.0,242.8 413.0,241.4 419.0,238.8 423.3,239.9 428.5,242.4 433.0,243.6 438.8,242.1 444.0,240.0 448.0,239.2 454.3,239.3 460.0,239.6 464.6,240.1 469.8,241.1 475.0,241.8 478.0,242.0 485.3,239.9 489.0,239.2 495.6,241.5 501.0,243.2 506.0,242.7 511.1,241.7 516.3,240.6 522.0,240.0 526.6,241.0 534.0,243.0 537.0,242.4 542.1,240.1 547.0,238.8 552.5,239.7 558.0,241.0 562.8,241.6 568.0,242.1 573.1,242.6 578.3,242.9 583.5,243.2 587.0,243.2 593.8,241.7 599.0,240.0 602.0,239.6 609.3,240.3 614.0,240.6 619.6,239.8 625.0,239.0 630.0,240.4 635.1,242.7 638.0,243.2 645.5,241.9 652.0,240.6 655.8,240.4 661.0,240.1 668.0,240.0 671.3,240.1 676.5,240.7 681.6,241.4 686.8,242.1 692.0,242.4 697.1,240.9 702.3,238.5 705.0,238.0 707.4,238.4 712.6,241.0 718.0,242.8 722.9,241.2 730.0,238.6 733.3,239.6 740.0,242.4 743.6,242.1 748.8,241.2 754.0,240.6 759.1,241.0 763.0,241.2 769.4,239.9 775.0,238.8 780.0,239.6 784.9,242.5 791.0,245.6 795.0,244.4 800.4,240.2 806.0,237.0 811.0,238.0 815.9,241.0 821.0,243.4 828.0,242.6 831.4,243.1 837.4,244.4 841.8,242.6 848.0,239.6 852.0,240.0 857.3,242.5 862.6,244.6 867.6,242.0 874.0,238.2 878.0,238.8 883.1,241.7 888.4,244.2 893.4,243.3 898.6,241.6 904.0,240.6 910.0,240.6 914.1,241.2 919.0,242.0 924.4,240.9 929.0,240.0 936.0,240.8 939.9,240.3 945.0,239.6 950.2,241.5 956.0,243.6 960.6,241.9 967.0,239.2 971.0,239.6 976.1,242.2 982.0,245.0 987.0,244.0 991.6,241.5 997.0,239.2 1001.9,240.0 1008.0,241.4 1012.2,241.9 1017.4,242.4 1022.0,242.6 1028.0,241.6 1032.9,239.0 1039.0,236.0 1044.0,235.8 1048.4,236.7 1053.6,239.3 1058.7,241.9 1064.0,243.2 1069.1,241.7 1075.0,239.8 1079.4,241.1 1086.0,243.4 1089.7,243.0 1096.0,242.2 1100.1,242.8 1106.0,243.8 1110.4,243.6 1115.6,242.8 1120.0,242.0 1125.9,239.9 1131.4,238.4 1136.2,239.5 1142.0,241.0 1146.6,240.7 1152.0,240.2 1156.9,240.6 1160.0,240.8 1167.2,239.5 1173.0,238.6 1177.6,239.3 1180.0,240.0 1182.7,241.7 1188.0,245.0 1193.0,244.0 1198.2,241.2 1204.0,238.8 1208.6,240.4 1216.0,243.8 1218.9,243.3 1224.0,241.2 1229.0,240.0 1234.4,241.7 1241.0,244.0 1245.0,243.6 1249.9,239.8 1255.6,235.0 1260.0,234.4 1265.4,236.8 1272.0,240.0 1275.7,239.6 1280.9,238.5 1284.0,238.2 1291.2,238.5 1296.4,238.9 1299.0,239.2 1301.5,240.0 1306.7,243.1 1313.0,245.6 1317.0,245.6 1320.0,245.6 1327.4,241.9 1332.0,240.0 1337.7,241.1 1343.0,242.0 1348.0,240.7 1353.6,239.2 1358.4,241.2 1365.0,245.0 1368.7,245.5 1373.0,246.0 1379.0,249.5 1385.0,252.4 1390.0,252.0 1394.5,249.8 1399.0,247.0 1404.9,245.5 1410.0,244.0 1415.2,239.3 1421.0,234.0 1425.5,232.6 1430.0,231.6 1435.9,229.6 1440.0,228.8 1446.2,229.9 1450.0,230.4 1458.0,230.0 1461.7,230.5 1468.0,232.4 1472.0,234.3 1477.2,237.2 1482.0,238.6 1488.0,238.4 1492.7,237.3 1498.0,236.2 1503.0,238.0 1508.2,242.3 1514.0,248.4 1518.5,251.9 1524.0,256.4 1529.0,262.6 1534.0,271.8 1540.0,282.4 1545.0,287.4 1549.0,284.0 1554.0,272.4 1560.0,248.0 1566.0,219.0 1571.0,199.0 1576.0,184.4 1580.6,180.6 1586.0,187.6 1592.0,208.0 1598.0,231.0 1603.0,250.4 1608.0,265.0 1612.0,273.6 1617.0,274.8 1623.0,268.0 1628.0,256.0 1633.0,243.0 1638.0,235.0 1643.0,232.4 1649.0,232.4 1654.0,235.0 1658.0,237.7 1663.0,241.0 1669.0,244.0 1674.0,244.0 1679.0,240.0 1684.0,233.6 1689.0,228.4 1695.0,226.0 1700.0,226.4 1706.0,228.6 1709.7,230.6 1712.0,232.0 1714.8,233.8 1718.0,236.0 1724.0,241.4 1732.0,250.0 1735.5,253.8 1740.0,258.6 1747.0,265.0 1752.0,268.4 1757.0,268.6 1762.0,265.6 1768.0,258.0 1771.6,251.5 1774.0,247.0 1776.8,241.6 1780.0,236.0 1786.0,228.0 1792.0,221.6 1798.0,218.0 1803.0,219.4 1809.0,224.0 1815.0,230.0 1818.1,233.7 1824.0,240.0 1829.0,243.0 1835.0,244.6 1838.8,244.9 1842.0,245.0 1850.0,243.4 1854.3,241.7 1858.0,240.0 1865.0,237.4 1872.0,236.8 1875.0,237.1 1879.0,238.0 1885.0,241.4 1891.0,245.4 1897.0,248.0 1903.0,248.4 1906.0,247.8 1909.0,246.6 1916.0,241.6 1922.0,237.4 1926.6,235.7 1929.0,235.4 1931.8,235.4 1936.0,235.4 1942.0,237.0 1947.0,240.4 1953.0,246.4 1958.0,249.6 1964.0,248.6 1970.0,246.6 1973.1,246.2 1980.0,245.6 1983.5,244.5 1987.0,243.0 1994.0,240.0 2000.0,239.2 2004.1,239.1 2010.0,239.0 2014.4,240.0 2020.0,242.0 2024.8,242.9 2030.0,243.6 2035.1,244.1 2040.0,244.4 2045.4,244.0 2048.0,243.6 2050.6,243.0 2056.0,241.0 2060.9,238.8 2064.0,237.4 2071.0,234.6 2076.4,234.5 2080.0,234.4 2088.0,233.6 2093.0,235.0 2098.0,238.0 2104.0,241.0 2109.0,242.2 2113.0,242.4" fill="none" stroke="#0000ff" stroke-width="2.20" stroke-linejoin="round" stroke-linecap="butt"/>
<polyline points="304.0,353.2 309.7,352.9 314.8,352.8 320.0,352.7 325.2,352.6 330.0,352.6 335.5,352.7 340.7,353.0 345.8,353.3 350.0,353.4 356.2,353.3 361.3,353.2 366.5,353.0 371.7,352.8 376.8,352.7 382.0,352.5 387.2,352.4 390.0,352.4 392.3,352.4 397.5,352.7 402.7,353.0 407.8,353.4 415.0,353.6 418.2,353.4 423.3,352.8 428.0,352.4 433.6,352.4 438.8,352.5 444.0,352.6 449.1,352.8 456.0,353.0 459.5,353.2 464.6,353.4 470.0,353.6 475.0,352.9 481.0,352.0 485.3,352.6 490.5,353.9 493.0,354.2 495.6,354.0 500.8,353.0 508.0,352.0 511.1,352.3 516.3,353.2 520.0,353.6 526.6,353.6 531.8,353.5 536.0,353.4 542.1,352.6 547.0,352.0 552.5,352.8 558.0,353.6 562.8,353.5 568.0,353.2 573.1,352.8 580.0,352.6 583.5,352.6 588.6,352.7 593.8,352.8 600.0,353.0 604.1,353.1 609.3,353.3 614.5,353.5 620.0,353.6 624.8,353.4 630.0,352.9 635.1,352.4 640.0,352.2 645.5,352.2 650.6,352.3 655.8,352.4 660.0,352.4 666.1,352.4 671.3,352.3 676.5,352.1 681.6,352.1 688.0,352.0 692.0,353.6 697.1,358.2 703.0,361.4 707.4,359.4 712.6,354.0 717.8,348.3 723.0,345.6 728.1,346.7 735.0,350.0 738.4,352.2 745.0,357.0 750.0,359.4 753.9,354.6 760.0,345.4 765.0,346.6 770.0,356.4 776.0,363.0 781.0,359.0 786.0,351.4 792.0,347.6 797.0,348.4 802.0,352.4 807.4,359.4 812.0,362.4 817.0,356.0 822.0,344.0 827.0,339.6 832.0,347.6 837.6,359.0 842.8,362.4 848.0,357.6 854.0,351.6 859.0,349.0 864.0,349.2 869.0,352.0 874.0,355.6 879.0,357.0 883.1,353.9 889.0,348.4 894.0,351.0 900.0,358.6 904.6,361.6 909.6,359.4 914.1,354.6 920.0,348.0 925.4,346.0 930.0,349.0 936.0,354.4 941.0,357.0 947.0,355.4 952.0,352.6 956.0,352.2 962.0,353.8 965.7,354.5 970.0,355.0 977.0,353.0 981.2,349.2 988.0,343.6 993.0,344.4 998.0,351.0 1003.6,358.6 1008.4,360.2 1013.0,357.0 1018.0,356.2 1024.0,359.4 1028.4,360.6 1033.0,359.0 1038.1,356.3 1043.2,353.1 1050.0,350.0 1054.4,349.2 1058.7,350.8 1065.0,353.6 1069.1,353.1 1072.0,352.4 1079.4,348.9 1086.0,346.6 1090.0,346.6 1094.9,349.2 1101.0,353.4 1105.0,354.0 1110.4,352.9 1113.0,352.6 1115.6,352.9 1118.0,353.6 1120.7,354.7 1125.9,357.8 1130.0,359.4 1137.0,360.0 1141.4,357.5 1148.0,351.6 1153.0,350.2 1156.9,351.6 1163.0,355.0 1168.0,356.0 1173.0,355.0 1177.6,352.1 1180.0,350.0 1185.0,345.0 1189.0,343.6 1193.1,344.6 1199.0,347.0 1205.0,348.0 1210.0,350.4 1213.7,354.6 1220.0,361.6 1225.0,362.4 1230.0,361.0 1234.4,359.0 1239.5,355.8 1244.7,353.0 1248.0,352.0 1254.0,351.2 1262.0,354.2 1267.0,354.6 1272.0,351.0 1278.0,345.0 1282.4,342.4 1287.0,343.0 1292.0,347.6 1296.4,352.3 1299.0,354.6 1303.0,356.6 1308.0,355.6 1313.0,353.6 1318.0,354.2 1322.2,356.7 1328.0,361.6 1333.6,364.0 1338.0,362.4 1344.0,358.0 1349.0,357.2 1354.0,360.4 1360.0,364.4 1364.0,365.0 1368.7,362.0 1375.0,356.0 1381.0,354.0 1384.2,353.9 1390.0,353.8 1396.0,352.4 1399.7,351.0 1404.9,348.4 1410.0,345.6 1415.2,342.2 1421.0,339.0 1426.0,338.0 1432.0,338.6 1435.9,338.4 1443.0,338.0 1446.2,339.1 1452.0,344.0 1457.0,349.0 1462.0,352.4 1467.4,354.0 1472.4,352.6 1479.0,349.0 1484.0,347.4 1489.0,347.6 1492.7,348.2 1498.0,350.0 1503.0,353.6 1508.0,360.6 1513.0,372.0 1520.0,388.0 1525.0,397.4 1530.0,403.0 1534.4,403.4 1540.0,398.0 1546.0,387.0 1549.5,376.3 1552.0,367.0 1554.7,355.7 1559.0,336.0 1565.0,312.0 1571.0,298.0 1576.4,292.4 1581.6,296.6 1587.0,312.0 1593.0,336.0 1598.0,354.0 1603.0,366.0 1608.0,373.0 1612.0,373.6 1617.0,368.0 1624.0,356.0 1629.0,349.0 1634.0,345.0 1639.0,343.4 1642.5,344.1 1645.0,345.0 1647.7,346.1 1651.0,348.0 1657.0,353.0 1663.0,361.0 1669.0,368.0 1675.0,372.6 1680.0,373.6 1685.0,372.0 1690.0,367.0 1696.0,358.0 1701.0,349.4 1706.0,343.0 1711.0,340.6 1716.0,342.6 1721.0,348.0 1726.0,355.6 1731.0,362.6 1736.0,367.0 1741.0,368.0 1746.0,366.0 1751.0,361.0 1757.0,352.6 1762.0,346.0 1767.0,342.4 1773.0,340.8 1779.0,340.0 1784.0,339.2 1787.1,339.7 1790.0,340.6 1792.3,341.7 1796.0,344.0 1802.0,348.6 1809.0,355.0 1813.0,358.3 1816.0,360.6 1823.0,364.6 1829.0,366.4 1835.0,366.6 1840.0,365.0 1846.0,360.0 1851.0,356.0 1856.0,354.0 1859.5,353.4 1866.0,352.4 1869.8,351.4 1876.0,349.6 1880.1,348.7 1886.0,347.6 1890.5,347.0 1893.0,346.8 1895.6,346.9 1899.0,347.2 1904.0,349.6 1910.0,354.6 1916.0,359.4 1922.0,362.8 1928.0,364.0 1933.0,362.6 1938.0,358.0 1944.0,351.4 1947.3,348.1 1950.0,345.6 1952.5,343.6 1956.0,341.2 1961.0,339.4 1965.0,339.2 1970.0,341.0 1973.1,342.4 1976.0,343.6 1984.0,345.6 1990.0,348.6 1996.0,352.4 1998.9,354.0 2003.0,356.0 2009.3,358.1 2012.0,359.0 2014.4,360.0 2020.0,362.0 2026.0,363.0 2029.9,363.2 2036.0,363.4 2040.3,363.1 2045.4,362.4 2048.0,362.0 2050.6,361.6 2056.0,360.6 2062.0,358.0 2068.0,354.6 2071.3,353.0 2074.0,352.0 2076.4,351.5 2081.6,350.7 2084.0,350.4 2086.8,350.1 2094.0,349.4 2097.1,349.2 2104.0,348.8 2107.4,348.6 2113.0,348.4" fill="none" stroke="#404040" stroke-width="2.20" stroke-linejoin="round" stroke-linecap="butt"/>
<polyline points="304.0,465.6 309.7,465.1 314.8,464.9 320.0,464.8 325.2,465.1 330.3,465.7 336.0,466.0 340.7,465.9 345.8,465.6 351.0,465.2 356.2,464.9 360.0,464.8 366.5,464.9 371.7,465.0 376.8,465.1 380.0,465.2 387.2,465.6 392.3,466.0 398.0,466.2 402.7,465.8 407.8,465.1 412.0,464.8 418.2,464.9 423.3,465.1 428.5,465.4 433.6,465.5 438.0,465.6 444.0,464.8 450.0,464.0 454.3,464.5 459.5,465.5 464.0,466.0 469.8,465.4 476.0,464.8 480.1,465.0 485.3,465.5 488.0,465.6 490.5,465.5 495.6,465.0 500.0,464.8 506.0,465.0 511.1,465.3 516.3,465.5 520.0,465.6 528.0,464.2 531.8,464.8 538.0,466.0 542.1,465.6 547.3,464.6 550.0,464.4 552.5,464.4 557.6,464.7 562.8,465.1 570.0,465.4 573.1,465.4 578.3,465.4 583.5,465.4 588.6,465.3 593.8,465.3 600.0,465.2 604.1,465.1 609.3,464.9 614.5,464.7 620.0,464.6 624.8,465.1 630.0,465.6 635.1,465.2 640.3,464.4 644.0,464.2 650.6,464.4 655.8,464.7 660.0,464.8 666.1,464.2 671.3,463.1 676.5,462.2 680.0,462.0 688.0,463.6 692.0,467.0 697.1,474.3 702.0,478.0 707.0,475.6 712.6,467.8 717.8,458.2 723.0,453.4 728.0,455.6 733.3,462.3 737.0,466.4 745.0,469.2 749.0,469.6 753.0,467.6 759.0,461.6 764.4,458.0 769.6,462.6 775.0,471.0 780.0,475.4 785.0,469.6 790.4,459.2 795.4,455.6 801.0,466.0 806.0,476.0 811.0,475.6 816.0,464.0 821.0,453.2 826.4,451.6 831.6,460.0 837.0,471.6 842.4,478.0 847.6,474.4 853.0,464.4 858.0,456.8 862.4,457.0 868.0,463.6 873.0,468.0 877.0,467.6 883.0,463.4 888.4,460.8 893.0,462.4 898.6,468.3 904.0,473.0 909.6,473.4 914.1,469.2 920.0,460.6 924.6,457.6 929.6,461.6 935.0,467.6 940.0,469.4 945.1,466.6 950.0,463.0 955.0,461.6 960.0,463.4 967.0,467.4 971.0,468.6 976.0,467.0 981.2,462.7 988.0,456.0 992.0,453.4 997.0,455.2 1001.9,462.3 1008.0,472.0 1013.0,474.2 1018.0,473.4 1022.4,473.6 1028.0,476.0 1033.0,477.2 1038.0,474.4 1043.2,467.7 1049.0,460.0 1054.0,457.0 1059.0,456.4 1064.0,458.0 1069.1,462.6 1074.0,466.0 1079.0,463.6 1085.0,456.6 1089.6,454.0 1095.0,461.0 1100.0,468.0 1105.0,469.0 1111.0,466.0 1116.0,466.8 1121.0,468.8 1125.9,468.4 1131.0,468.0 1136.2,473.4 1141.6,479.0 1146.4,473.6 1152.0,461.6 1157.0,457.0 1162.1,462.0 1167.0,466.8 1172.0,466.8 1177.0,464.4 1182.7,459.5 1188.0,455.6 1193.0,454.4 1198.0,459.0 1204.0,466.0 1209.0,468.6 1213.7,467.6 1220.0,466.0 1224.0,467.4 1229.2,471.1 1235.0,474.0 1240.0,472.6 1244.7,468.2 1250.0,463.0 1255.0,461.4 1260.0,462.6 1265.4,465.6 1270.0,467.4 1276.0,465.0 1282.0,456.0 1287.0,449.6 1291.6,449.4 1297.0,461.0 1302.0,472.4 1307.0,476.4 1312.0,470.0 1317.6,460.6 1322.4,458.0 1327.6,465.6 1333.0,477.0 1338.0,483.0 1343.0,479.6 1348.6,471.6 1353.6,467.6 1358.6,469.4 1364.0,474.0 1369.0,475.6 1373.9,472.8 1380.0,467.4 1385.0,465.4 1390.0,467.0 1395.6,470.0 1400.0,470.8 1405.0,468.6 1411.0,461.6 1416.0,454.4 1421.0,450.6 1426.0,450.8 1431.0,452.0 1436.0,452.0 1442.0,449.0 1447.0,447.6 1452.0,449.6 1457.0,455.0 1462.0,461.0 1467.4,465.0 1472.0,466.0 1478.0,464.0 1484.0,461.0 1488.0,460.6 1492.7,462.3 1498.0,465.0 1503.0,466.0 1508.2,465.2 1513.0,464.4 1518.0,465.0 1524.0,470.0 1530.0,477.4 1536.0,486.0 1539.2,491.4 1542.0,496.6 1544.3,501.2 1548.0,508.0 1553.0,514.6 1558.0,516.6 1563.6,512.0 1569.0,500.0 1575.0,480.0 1581.0,452.0 1586.0,428.0 1591.0,412.0 1596.0,404.4 1601.6,404.4 1607.0,411.6 1612.0,425.0 1617.0,442.0 1623.0,464.0 1627.0,474.4 1632.0,482.0 1637.0,482.4 1642.0,478.0 1648.0,471.0 1653.0,467.4 1658.0,467.4 1663.0,472.0 1668.0,482.0 1673.0,492.0 1679.0,500.0 1684.0,502.6 1689.0,498.0 1694.0,484.0 1699.0,462.0 1704.0,438.0 1709.0,423.0 1715.0,415.2 1720.0,418.6 1725.0,433.0 1730.0,454.0 1735.0,473.0 1740.0,486.0 1746.0,495.6 1751.0,497.6 1756.0,495.0 1762.0,487.0 1768.0,478.0 1771.6,472.9 1775.0,468.6 1782.0,460.6 1789.0,453.6 1794.0,450.6 1799.0,450.0 1804.0,452.0 1810.0,457.0 1813.0,459.9 1817.0,464.0 1824.0,470.4 1829.0,473.4 1834.0,474.0 1838.8,473.3 1842.0,472.6 1849.0,471.0 1855.0,468.4 1859.5,465.1 1862.0,463.0 1864.6,460.8 1869.0,457.6 1875.0,455.4 1880.0,455.6 1885.0,458.0 1892.0,464.0 1895.6,467.2 1899.0,470.0 1905.0,474.0 1911.0,476.4 1917.0,477.0 1923.0,474.4 1926.6,471.4 1929.0,469.0 1931.8,466.2 1936.0,462.0 1942.0,457.4 1948.0,455.0 1953.0,454.4 1957.6,455.8 1960.0,457.0 1962.8,458.4 1968.0,461.4 1973.1,464.5 1976.0,466.0 1982.0,468.4 1988.0,468.8 1996.0,468.0 1998.9,467.4 2004.1,465.9 2008.0,465.0 2014.4,464.4 2018.0,464.0 2026.0,462.4 2032.0,462.4 2035.1,462.7 2040.0,464.0 2046.0,466.4 2052.0,470.0 2058.0,473.4 2060.9,474.9 2064.0,476.0 2071.0,477.2 2077.0,476.4 2083.0,474.0 2086.8,471.8 2090.0,469.6 2098.0,463.6 2102.3,460.6 2106.0,458.4 2113.0,455.4" fill="none" stroke="#404040" stroke-width="2.20" stroke-linejoin="round" stroke-linecap="butt"/>
<polyline points="304.4,577.6 309.7,577.2 312.0,577.2 314.8,577.3 320.0,577.8 324.0,578.0 330.3,577.3 335.0,576.8 340.7,577.1 348.0,577.6 351.0,577.6 356.2,577.6 361.3,577.5 366.5,577.5 372.0,577.4 376.8,577.1 382.0,576.8 387.2,577.1 392.3,577.8 398.0,578.2 402.7,577.4 409.0,576.2 413.0,576.6 418.2,577.7 424.0,578.4 428.5,578.2 433.6,577.8 438.8,577.4 444.0,577.2 449.1,577.7 456.0,578.4 459.5,578.2 464.6,577.7 470.0,577.2 475.0,577.1 481.0,577.0 485.3,577.2 491.0,577.6 495.6,577.2 500.0,576.8 506.0,578.0 511.0,579.0 516.3,578.1 522.0,577.0 526.6,577.5 531.0,578.0 537.0,576.9 542.0,576.0 547.3,576.4 552.5,577.2 558.0,577.6 562.8,577.5 569.0,577.4 573.1,577.7 578.3,578.3 581.0,578.4 583.5,578.1 588.6,576.7 592.0,576.2 599.0,577.5 605.0,578.6 609.3,578.4 614.5,577.8 620.0,577.2 624.8,576.9 630.0,576.7 635.1,576.5 640.0,576.4 645.5,576.8 652.0,577.4 655.8,577.3 661.0,576.9 666.1,576.3 672.0,575.6 676.5,574.7 682.0,573.8 688.0,575.4 693.0,580.4 698.0,588.0 703.0,590.0 708.0,584.0 713.0,575.0 718.4,568.0 723.6,565.6 729.0,570.0 734.0,576.0 740.0,580.0 745.0,582.0 750.0,582.4 755.0,578.6 760.0,572.4 765.0,570.4 770.0,576.0 775.6,585.4 780.6,587.6 785.6,579.0 791.0,569.0 796.0,568.6 801.4,579.0 806.6,589.2 811.6,587.0 816.6,576.0 822.0,565.4 827.0,564.6 832.4,574.0 837.4,584.4 842.6,589.4 847.6,586.0 853.0,576.6 858.0,569.0 863.0,569.6 868.4,576.4 873.6,581.6 878.6,580.0 884.0,575.4 889.0,572.8 894.0,575.6 899.4,581.4 904.4,586.4 909.6,586.0 915.0,579.0 920.0,571.6 925.4,569.2 930.4,574.0 935.6,579.0 941.0,581.0 946.0,579.0 951.6,575.4 956.4,574.0 961.6,576.4 966.6,579.6 971.6,581.0 977.0,579.0 982.0,574.0 987.4,567.4 992.4,564.0 997.6,568.4 1003.0,578.4 1008.0,585.0 1013.0,585.6 1018.0,584.6 1023.0,586.4 1028.6,590.0 1033.6,589.4 1039.0,584.4 1044.4,578.0 1049.6,573.0 1054.6,569.0 1060.0,566.6 1065.0,569.0 1070.0,575.6 1075.4,579.6 1080.4,575.6 1085.6,568.8 1090.4,568.6 1095.6,575.0 1101.0,580.0 1106.0,578.6 1111.4,577.0 1116.6,579.0 1121.6,580.6 1127.0,579.0 1132.0,580.4 1137.0,588.4 1142.4,592.6 1147.4,583.0 1152.4,573.6 1157.6,573.0 1163.0,577.6 1168.0,579.2 1173.0,578.0 1178.0,575.4 1182.7,570.0 1189.0,564.4 1194.0,564.4 1199.0,572.0 1204.4,579.4 1209.6,580.0 1215.0,577.6 1220.0,578.0 1225.4,581.0 1230.4,584.4 1235.6,585.8 1240.0,583.6 1246.0,578.0 1251.0,575.4 1256.0,575.6 1261.0,577.0 1266.4,579.0 1271.4,579.6 1276.6,576.6 1282.0,568.0 1287.4,559.6 1292.4,560.0 1297.4,572.0 1302.4,584.4 1308.0,587.4 1313.0,580.0 1318.0,572.6 1323.0,571.0 1328.0,578.6 1333.4,589.0 1338.6,593.0 1343.6,590.0 1349.0,584.4 1354.0,581.4 1359.4,583.0 1364.6,586.4 1369.6,587.2 1375.0,583.4 1380.0,578.6 1385.0,576.4 1390.0,579.0 1395.4,582.6 1400.4,584.0 1405.6,580.0 1411.0,572.4 1416.0,566.4 1421.4,564.4 1427.0,564.6 1432.0,564.6 1437.0,563.4 1442.0,561.0 1447.0,559.4 1452.4,563.0 1457.6,570.0 1462.6,576.0 1467.6,579.6 1473.0,580.4 1478.0,578.6 1483.4,576.0 1488.4,576.0 1494.0,578.4 1499.0,579.4 1504.0,577.6 1509.4,574.6 1514.4,572.6 1519.4,572.0 1524.6,573.0 1530.0,576.0 1535.0,582.0 1540.0,590.0 1545.0,600.0 1550.0,613.0 1555.4,625.0 1560.6,630.6 1565.6,627.0 1571.0,614.0 1576.0,596.0 1581.0,574.0 1586.0,552.0 1591.0,534.0 1596.4,522.0 1601.6,516.6 1607.0,518.4 1612.0,528.0 1617.0,544.0 1623.0,567.0 1628.0,584.0 1633.0,592.4 1638.0,592.8 1643.4,587.0 1648.6,580.0 1654.0,575.4 1659.0,575.6 1664.4,581.4 1669.4,591.6 1674.4,603.0 1679.4,613.4 1684.6,618.0 1690.0,614.0 1695.4,599.0 1700.6,577.0 1705.6,555.0 1710.6,538.0 1716.0,527.0 1721.0,527.0 1726.6,539.0 1731.6,556.0 1736.6,575.0 1741.6,591.6 1746.6,603.0 1752.0,609.2 1756.6,609.0 1762.0,604.0 1767.4,597.0 1771.6,591.9 1778.0,584.0 1783.0,576.0 1788.0,569.0 1793.0,564.6 1798.0,563.0 1803.6,563.6 1809.0,566.4 1813.0,569.2 1818.0,573.4 1824.0,579.4 1829.4,583.6 1834.4,585.0 1840.0,584.6 1846.0,583.4 1849.1,582.3 1852.0,581.0 1854.3,579.8 1859.0,577.0 1866.0,573.0 1869.8,571.3 1873.0,570.0 1877.0,568.6 1880.6,568.4 1886.0,570.0 1892.0,574.0 1895.6,576.7 1898.0,578.4 1900.8,580.2 1904.0,582.0 1910.0,584.6 1917.0,586.4 1922.0,585.2 1928.0,582.0 1931.8,579.6 1935.0,577.4 1941.0,573.4 1946.0,571.0 1952.0,570.0 1959.0,570.0 1964.0,570.8 1969.0,572.6 1973.1,574.9 1976.0,576.6 1982.0,579.6 1988.0,581.0 1994.0,581.4 2000.0,580.4 2004.1,579.3 2007.0,578.4 2012.0,577.0 2014.4,576.5 2019.0,575.6 2026.0,574.0 2032.0,573.2 2035.1,573.3 2040.0,573.6 2046.0,575.4 2052.0,579.0 2055.8,581.5 2059.0,583.6 2066.0,587.0 2073.0,588.0 2076.4,587.8 2080.0,587.4 2087.0,585.6 2094.0,582.0 2097.1,580.0 2102.0,576.6 2109.0,571.6 2113.0,569.0" fill="none" stroke="#404040" stroke-width="2.20" stroke-linejoin="round" stroke-linecap="butt"/>
<polyline points="304.4,692.0 309.0,697.0 314.0,695.4 319.0,688.0 324.4,683.6 330.0,682.6 335.0,686.4 340.0,691.4 345.6,693.4 350.4,694.4 355.6,692.0 361.0,686.6 366.0,688.4 371.0,692.6 377.0,691.0 382.0,690.7 386.0,690.4 392.0,686.0 397.0,684.0 402.0,687.4 407.6,690.0 413.0,689.2 418.0,688.6 423.0,691.0 428.4,692.2 433.0,688.0 438.0,684.6 443.0,688.6 448.4,694.0 453.6,695.2 459.0,691.6 464.0,688.4 469.0,688.0 475.0,691.4 479.6,691.6 485.0,688.0 490.0,689.6 495.6,693.2 500.0,689.0 505.6,682.0 510.0,684.0 516.0,691.0 521.0,693.0 526.0,690.0 531.0,687.0 536.0,687.2 542.0,691.6 547.0,693.2 552.0,690.0 557.6,686.2 562.4,686.0 568.0,690.0 573.0,693.6 577.6,694.0 583.0,689.0 588.0,686.4 593.0,689.0 598.4,690.4 603.6,687.6 609.0,689.4 614.0,695.0 619.0,693.6 624.4,684.4 629.6,682.0 634.4,691.0 639.6,695.0 644.4,689.6 650.0,687.0 655.0,691.2 660.4,692.8 665.6,688.0 671.0,682.4 676.0,683.6 681.0,687.6 686.0,686.0 691.4,684.4 696.4,697.6 701.6,714.4 707.0,711.6 712.0,688.0 717.0,672.6 722.0,673.6 727.0,678.4 732.0,680.4 737.4,686.0 744.0,700.0 748.4,707.2 753.6,697.6 758.6,680.0 763.6,671.4 769.4,685.0 774.0,702.4 779.4,706.6 784.4,693.0 789.6,678.4 794.6,675.2 800.0,682.0 805.0,693.0 810.0,703.2 815.4,698.6 820.6,681.6 826.0,672.6 831.2,678.4 836.0,692.0 841.4,707.6 846.6,711.0 851.6,692.0 857.0,673.4 862.0,671.0 867.4,684.0 872.4,696.4 877.4,703.2 882.4,699.6 888.0,689.0 893.0,682.0 898.4,689.0 903.4,701.2 909.0,701.6 914.0,689.2 919.4,678.4 924.0,675.0 929.0,681.6 934.4,693.6 939.4,698.0 944.4,696.0 949.6,692.0 955.0,685.4 960.0,684.0 965.4,692.0 970.4,697.0 975.4,692.4 981.0,682.4 986.0,676.4 991.4,679.0 996.4,683.0 1001.4,686.0 1006.4,693.4 1012.0,704.4 1016.6,704.6 1022.0,693.4 1027.2,687.0 1032.4,692.0 1037.6,697.6 1042.6,695.0 1048.0,685.6 1053.0,680.4 1058.4,687.6 1063.4,695.0 1068.6,690.6 1073.6,682.4 1078.6,680.4 1084.0,683.0 1089.4,685.6 1094.0,686.6 1099.4,687.6 1104.6,689.0 1109.6,691.6 1115.0,695.0 1120.0,696.0 1125.4,692.6 1130.4,691.0 1135.4,697.0 1140.6,703.6 1145.6,698.4 1151.0,686.0 1156.4,679.4 1161.4,685.6 1166.6,694.0 1172.0,692.0 1177.0,682.4 1183.0,679.0 1188.0,681.0 1193.0,682.6 1198.0,680.0 1203.0,678.6 1208.0,684.0 1213.4,691.0 1218.6,695.4 1223.6,699.6 1229.0,702.0 1233.6,700.0 1239.6,694.6 1244.0,693.0 1249.4,692.6 1254.4,690.0 1259.6,687.6 1265.0,688.6 1270.0,687.4 1275.0,685.0 1280.0,683.0 1286.0,677.6 1291.0,676.4 1296.0,686.4 1301.0,692.0 1306.4,690.6 1312.0,690.4 1317.0,690.6 1322.0,689.6 1327.0,691.0 1332.0,695.4 1337.4,700.0 1342.4,704.4 1347.4,705.6 1352.4,698.0 1357.6,694.4 1362.6,699.6 1367.6,699.0 1373.0,693.0 1378.0,692.4 1383.6,693.8 1389.0,691.0 1394.0,685.6 1399.0,681.0 1404.0,683.0 1409.6,689.4 1414.6,690.0 1420.0,680.0 1425.0,670.4 1430.0,665.6 1435.0,665.2 1440.0,667.0 1445.0,669.4 1450.0,673.0 1455.0,679.0 1461.0,688.0 1466.4,697.0 1471.4,704.0 1476.4,698.0 1482.0,692.0 1487.0,695.4 1492.0,698.4 1497.4,691.0 1502.4,684.6 1507.4,685.0 1512.4,687.6 1518.0,694.0 1523.0,706.0 1528.0,718.0 1533.0,728.0 1538.0,734.0 1543.0,734.4 1548.0,728.4 1553.4,716.6 1558.6,700.0 1563.6,678.0 1569.0,650.0 1574.0,630.4 1579.4,628.0 1584.6,647.0 1590.0,669.0 1595.0,678.6 1600.0,682.6 1605.0,688.0 1610.4,696.0 1615.6,699.4 1621.8,692.1 1626.0,686.4 1632.0,683.0 1638.0,684.4 1643.0,685.0 1647.4,687.6 1652.0,694.0 1657.4,703.0 1662.6,708.4 1668.0,708.0 1673.0,706.6 1678.0,708.0 1683.6,704.6 1688.4,694.0 1693.6,681.4 1698.6,671.0 1704.0,666.4 1709.0,672.4 1714.4,677.6 1719.4,675.0 1724.6,682.0 1729.6,702.0 1735.0,711.4 1740.0,709.0 1746.0,708.0 1751.0,707.0 1756.0,701.6 1761.0,696.0 1766.0,691.4 1771.4,683.6 1776.6,676.0 1781.6,674.0 1787.0,674.6 1792.0,673.0 1797.0,674.0 1802.0,679.0 1807.6,682.6 1812.6,687.0 1817.6,696.0 1822.6,704.4 1828.0,707.0 1833.0,704.4 1838.0,698.6 1843.6,690.0 1848.6,685.0 1853.6,686.6 1858.6,690.0 1863.6,688.0 1869.0,682.4 1874.0,680.8 1879.4,684.0 1884.6,688.0 1889.6,689.6 1895.0,691.0 1900.0,692.8 1905.0,694.6 1911.0,695.4 1916.0,694.4 1921.0,689.0 1926.0,684.0 1931.0,688.4 1936.4,695.0 1941.4,691.0 1946.6,687.4 1951.6,693.0 1957.0,695.2 1962.4,690.6 1967.4,689.2 1972.4,688.6 1977.6,684.4 1983.0,681.0 1988.0,681.6 1993.0,682.6 1998.4,685.0 2003.6,687.6 2008.6,686.4 2014.0,682.0 2019.0,681.4 2024.0,686.4 2029.4,693.6 2034.4,702.0 2040.0,706.0 2045.0,701.0 2050.0,698.4 2055.6,703.6 2060.0,702.0 2065.0,693.0 2070.4,687.0 2075.6,686.4 2081.0,688.0 2086.4,689.0 2091.6,688.4 2097.0,687.6 2102.0,688.0 2107.0,686.6 2113.0,681.0" fill="none" stroke="#404040" stroke-width="2.20" stroke-linejoin="round" stroke-linecap="butt"/>
<polyline points="304.4,794.0 311.0,789.0 316.0,797.0 321.0,803.6 326.0,815.0 331.6,825.6 336.4,816.4 342.0,799.0 347.2,794.6 352.0,802.4 357.2,814.0 362.6,815.4 368.0,801.6 373.0,796.0 378.4,808.0 383.6,813.0 389.0,805.6 393.6,799.6 399.0,803.0 404.0,815.6 409.0,823.4 414.0,811.4 419.4,796.0 424.6,799.0 430.0,814.0 435.0,815.6 440.4,804.0 445.4,795.2 450.4,797.0 455.6,809.6 460.6,816.4 465.6,806.0 471.0,793.6 476.0,799.6 481.4,809.0 486.4,800.6 492.0,791.4 497.0,798.0 502.0,803.4 507.0,795.0 512.4,789.0 517.6,796.0 523.0,800.8 526.6,801.3 532.0,801.6 538.0,800.4 543.0,804.0 548.4,804.4 553.6,786.0 559.0,777.0 564.0,796.0 569.0,811.6 574.4,800.0 579.4,791.6 584.4,795.0 589.4,797.6 595.0,793.0 600.0,791.6 605.0,802.0 610.4,817.6 615.6,813.4 620.6,792.0 626.0,787.6 631.0,798.0 636.0,803.6 641.4,806.0 646.4,802.4 652.0,793.0 657.0,795.0 662.0,803.0 667.4,810.4 672.4,814.4 677.6,805.0 682.6,796.0 688.0,804.0 693.0,818.0 698.4,817.0 703.6,805.0 708.6,798.0 714.0,801.6 719.0,803.4 724.0,791.6 729.0,784.6 734.0,798.0 740.0,811.6 745.0,816.6 750.0,815.4 755.0,806.0 760.0,796.0 765.4,793.6 770.4,796.0 775.6,801.0 781.0,809.0 786.0,809.4 791.4,800.4 796.4,796.0 801.4,799.6 807.0,804.6 812.0,806.0 817.0,801.0 822.4,793.2 827.4,789.6 832.4,796.0 837.6,805.2 842.6,806.0 848.0,796.4 853.0,790.0 858.4,796.0 863.4,799.0 869.0,790.6 874.0,787.6 879.4,801.4 884.4,810.0 889.4,804.6 894.4,803.6 899.6,811.0 905.0,811.4 910.0,800.6 915.4,788.0 920.6,787.4 925.6,804.0 931.0,815.6 936.0,808.0 941.4,796.0 946.4,790.4 951.6,797.0 956.6,814.0 962.0,823.4 967.0,806.0 972.0,788.4 977.4,791.6 982.4,801.0 987.6,794.0 993.0,790.0 998.0,808.0 1003.0,826.0 1008.0,813.0 1013.0,790.6 1018.6,796.6 1023.6,826.6 1029.0,832.6 1034.0,809.4 1039.4,796.6 1044.4,794.0 1049.6,787.6 1054.4,782.6 1060.0,791.6 1065.0,806.0 1070.4,813.0 1075.4,811.4 1080.6,804.0 1086.0,795.6 1091.0,791.4 1096.0,792.4 1101.4,797.0 1106.6,800.6 1111.6,802.0 1117.0,800.4 1122.0,796.6 1127.4,802.4 1132.4,815.0 1137.6,820.4 1142.6,820.6 1148.0,816.6 1153.0,803.6 1158.0,795.4 1163.4,797.0 1168.6,799.4 1173.6,803.0 1178.6,797.4 1184.0,778.6 1189.4,776.0 1194.0,793.6 1199.4,804.0 1204.4,795.0 1210.0,786.4 1215.0,796.4 1220.0,810.4 1225.0,807.0 1230.4,804.6 1235.6,819.6 1240.6,821.6 1245.6,802.6 1251.0,794.0 1256.0,802.4 1261.4,806.4 1266.4,804.0 1271.4,799.0 1277.0,787.6 1282.0,786.6 1287.4,800.0 1292.4,805.4 1297.6,797.0 1303.0,787.4 1308.0,784.6 1313.4,793.4 1318.4,808.0 1323.4,817.0 1329.0,819.0 1334.0,821.0 1339.0,820.0 1344.0,813.0 1349.4,814.6 1354.4,821.6 1359.4,817.0 1365.0,806.6 1370.0,801.0 1375.6,799.6 1380.6,800.6 1385.6,800.0 1391.0,794.0 1395.6,789.0 1400.6,789.0 1406.0,784.0 1411.4,773.4 1416.6,775.4 1421.6,790.0 1426.6,801.4 1431.6,792.0 1437.0,775.6 1442.0,779.6 1447.4,797.0 1452.4,804.0 1458.0,809.0 1463.0,816.0 1468.0,816.6 1473.4,807.0 1478.4,799.6 1483.4,801.6 1489.0,810.0 1494.0,831.0 1497.0,847.0 1499.4,855.4 1502.4,844.0 1509.0,814.0 1514.4,798.0 1519.4,806.4 1524.4,786.0 1529.6,748.4 1535.0,740.0 1540.0,763.0 1545.4,787.0 1550.6,802.0 1556.0,812.0 1561.0,826.0 1566.0,845.6 1571.0,848.0 1576.0,836.0 1581.0,826.0 1586.6,820.6 1592.0,800.0 1597.0,774.0 1602.0,756.6 1607.4,753.0 1612.4,750.4 1617.0,757.0 1623.0,780.0 1628.0,798.0 1633.0,801.6 1638.0,811.0 1643.6,820.0 1649.0,812.6 1654.0,798.0 1659.0,787.0 1664.4,799.0 1669.4,828.0 1674.6,847.0 1680.0,850.6 1685.2,851.2 1690.0,838.0 1695.4,805.0 1700.4,782.0 1705.4,766.0 1710.6,753.6 1716.0,751.4 1721.4,771.0 1726.4,793.0 1731.6,808.0 1736.6,819.0 1742.0,831.6 1747.0,835.4 1752.0,817.0 1757.0,800.0 1762.4,804.6 1767.6,815.0 1772.6,814.0 1778.0,803.0 1783.4,790.0 1788.4,790.6 1793.4,809.0 1798.6,818.0 1803.6,801.4 1808.6,784.6 1813.6,787.0 1819.0,796.0 1824.0,800.0 1829.4,809.4 1834.6,821.4 1839.6,818.6 1845.0,808.6 1850.0,808.0 1855.4,810.6 1860.6,807.0 1865.6,797.0 1871.0,784.0 1876.0,779.0 1881.4,782.0 1886.4,782.0 1891.6,781.4 1897.0,787.6 1902.0,786.4 1907.0,775.0 1912.4,776.6 1917.6,795.0 1922.6,815.6 1928.0,828.4 1933.0,819.4 1938.0,802.4 1943.4,802.0 1948.4,813.6 1953.6,812.6 1958.6,798.0 1964.0,790.0 1969.0,789.6 1974.0,787.4 1979.4,795.6 1984.4,807.0 1989.6,802.4 1994.6,801.4 2000.0,817.6 2005.4,823.0 2010.0,815.6 2015.0,818.0 2020.6,823.0 2025.6,812.6 2031.0,802.0 2036.0,804.6 2042.0,811.0 2047.0,806.0 2052.0,798.4 2057.0,797.6 2062.0,795.6 2067.4,796.0 2072.4,806.0 2077.6,804.0 2082.6,785.0 2087.6,768.6 2093.0,781.0 2098.0,813.0 2103.4,822.4 2108.4,802.4 2113.0,794.0" fill="none" stroke="#404040" stroke-width="2.20" stroke-linejoin="round" stroke-linecap="butt"/>
<polyline points="304.4,913.6 309.7,913.7 314.8,913.8 320.0,913.8 324.0,913.8 330.3,913.2 334.0,913.0 340.7,913.7 346.0,914.2 351.0,914.1 356.2,913.9 361.3,913.6 368.0,913.4 371.7,913.3 376.8,913.3 384.0,913.2 387.2,913.3 392.3,913.5 397.5,913.8 400.0,913.8 402.7,913.8 407.8,913.8 413.0,913.7 420.0,913.6 423.3,913.5 428.5,913.2 433.6,912.9 438.0,912.8 444.0,913.2 449.1,913.7 452.0,913.8 454.3,913.8 459.5,913.8 464.6,913.8 470.0,913.8 475.0,913.7 480.1,913.4 485.3,913.2 492.0,913.0 495.6,913.0 500.8,913.1 506.0,913.3 510.0,913.4 516.3,913.6 521.5,913.7 526.0,913.8 531.8,913.5 537.0,913.0 542.0,912.8 547.3,913.1 554.0,913.6 557.6,913.5 562.8,913.2 568.0,913.0 573.1,913.0 578.3,913.1 584.0,913.2 588.6,913.5 593.8,913.9 600.0,914.2 604.1,914.2 609.3,914.0 614.5,913.8 620.0,913.6 624.8,913.4 630.0,913.1 636.0,913.0 640.3,913.0 645.5,913.1 650.0,913.2 655.8,913.4 661.0,913.5 666.0,913.6 672.0,912.4 676.5,911.0 681.0,910.0 686.0,910.6 691.0,914.6 696.0,921.0 701.0,925.0 706.0,921.0 711.0,913.4 716.4,909.0 721.4,907.0 726.6,905.4 732.0,907.6 737.0,914.0 743.0,920.6 747.6,920.0 753.0,913.6 758.4,908.0 763.6,907.0 769.0,911.0 774.0,918.0 779.0,922.6 784.0,918.6 789.0,909.6 794.4,906.4 799.4,912.6 804.4,919.6 809.6,920.0 815.0,912.6 820.0,906.0 825.4,904.4 830.6,910.0 835.6,918.0 841.0,922.4 846.0,920.0 851.0,914.0 856.0,909.6 861.0,909.0 866.4,912.6 872.0,916.0 876.6,916.0 882.0,912.6 887.4,909.4 892.4,910.4 898.0,915.4 903.0,919.6 908.0,920.0 913.0,916.6 918.6,911.4 923.6,909.6 929.0,912.0 934.0,915.0 939.0,916.0 944.0,915.0 949.4,912.6 954.4,911.0 959.4,912.6 965.0,915.0 970.0,916.0 975.0,914.6 980.0,912.4 985.6,909.6 990.6,907.4 995.0,906.6 1000.0,909.6 1006.0,914.6 1011.0,917.6 1016.0,918.4 1021.0,919.0 1026.4,921.6 1032.0,924.4 1036.6,923.0 1042.0,918.0 1047.4,912.6 1052.6,909.6 1058.0,908.0 1062.4,907.6 1067.6,909.0 1073.0,912.6 1078.0,914.6 1083.0,911.4 1088.4,906.0 1093.4,906.0 1098.6,911.4 1104.0,915.6 1109.0,915.4 1114.4,914.0 1119.4,915.0 1124.6,916.0 1130.0,914.6 1135.0,914.6 1140.4,919.6 1145.4,923.6 1150.6,919.4 1156.0,911.6 1161.0,910.0 1166.0,912.6 1171.4,914.0 1176.0,913.0 1182.7,911.0 1187.0,909.4 1192.0,906.6 1197.0,907.0 1202.4,911.4 1207.6,915.0 1212.6,915.4 1217.6,912.6 1223.0,910.4 1227.6,911.4 1233.0,917.0 1238.4,922.0 1243.6,920.6 1248.6,914.6 1254.0,910.0 1259.0,910.0 1264.0,912.6 1269.4,915.6 1274.4,916.6 1279.4,913.6 1284.6,906.0 1289.6,899.6 1295.0,902.0 1300.0,912.6 1305.4,922.0 1310.6,923.4 1316.0,915.0 1321.0,906.6 1326.0,905.4 1331.4,912.6 1336.6,922.0 1342.0,927.4 1347.0,924.6 1352.0,918.6 1357.0,915.4 1362.0,917.0 1367.6,920.6 1372.6,922.6 1378.0,921.6 1383.0,919.0 1388.4,916.6 1393.4,916.6 1398.6,919.4 1403.6,920.6 1409.0,916.4 1414.0,908.6 1419.4,902.0 1424.4,900.0 1429.6,901.6 1435.0,903.6 1440.0,903.0 1445.0,900.0 1450.4,897.6 1455.6,899.4 1460.6,904.4 1466.0,911.0 1471.0,916.0 1476.0,917.2 1481.0,915.6 1486.4,913.0 1491.6,911.4 1496.6,912.0 1502.0,914.0 1507.0,915.0 1512.0,914.4 1518.0,913.0 1523.0,912.6 1528.0,913.0 1533.0,914.4 1538.0,918.0 1543.0,925.0 1548.0,935.0 1553.4,948.0 1558.6,959.4 1563.6,963.6 1569.0,959.0 1574.0,945.0 1579.0,925.0 1584.0,902.0 1589.0,880.0 1594.4,863.0 1599.4,854.0 1604.4,853.0 1609.6,861.0 1614.6,878.0 1620.0,893.0 1623.0,906.0 1626.0,917.0 1631.0,931.0 1636.4,935.6 1641.4,932.6 1646.6,925.0 1651.6,918.6 1657.0,915.6 1662.0,916.4 1667.4,921.0 1672.4,928.0 1677.4,935.0 1682.4,939.4 1687.6,940.0 1692.6,935.6 1698.0,923.0 1703.0,907.0 1708.4,889.0 1713.6,876.4 1719.0,870.0 1724.0,872.0 1729.0,882.6 1734.0,899.0 1739.0,916.0 1744.0,931.0 1749.4,942.0 1755.0,946.0 1760.0,944.6 1765.0,939.4 1770.4,930.6 1776.0,921.0 1781.0,914.6 1786.0,910.0 1791.4,906.6 1796.6,904.4 1801.6,903.6 1807.0,904.4 1813.0,907.0 1819.0,909.6 1823.3,911.4 1826.0,912.4 1828.5,913.4 1832.0,914.4 1838.0,915.0 1846.0,914.2 1849.1,913.9 1853.0,913.6 1859.0,912.6 1864.0,910.8 1869.0,908.6 1874.0,907.4 1879.0,907.6 1884.0,910.0 1890.0,914.0 1896.0,917.6 1902.0,920.6 1908.0,922.0 1913.0,922.0 1918.0,921.0 1921.5,919.6 1924.0,918.4 1926.6,917.2 1931.0,915.0 1938.0,911.6 1942.1,909.6 1945.0,908.6 1952.0,907.4 1958.0,908.0 1962.8,909.1 1966.0,910.0 1974.0,912.0 1978.3,913.3 1982.0,914.4 1988.0,915.8 1994.0,916.0 1998.9,915.3 2002.0,914.6 2010.0,912.6 2014.4,911.7 2018.0,911.2 2026.0,910.6 2029.9,910.6 2034.0,910.6 2040.0,911.0 2046.0,912.6 2052.0,915.6 2055.8,918.3 2059.0,920.6 2066.0,924.0 2073.0,925.2 2076.4,924.5 2079.0,923.6 2081.6,922.3 2086.0,919.4 2093.0,914.0 2097.1,911.9 2100.0,910.6 2107.0,907.6 2113.0,905.6" fill="none" stroke="#404040" stroke-width="2.20" stroke-linejoin="round" stroke-linecap="butt"/>
<polyline points="304.4,1025.6 309.7,1026.0 314.0,1026.0 320.0,1025.0 324.0,1024.4 330.0,1025.6 335.0,1028.0 340.0,1027.4 345.0,1024.4 350.0,1023.6 356.0,1025.2 361.3,1024.8 365.0,1024.6 371.7,1026.2 376.0,1027.0 382.0,1025.0 386.0,1023.6 392.0,1023.2 397.5,1024.5 402.7,1026.5 406.0,1027.0 413.0,1025.8 418.0,1025.0 423.3,1025.5 430.0,1026.2 433.6,1025.5 440.0,1023.8 444.0,1024.4 450.0,1025.4 454.3,1025.0 458.0,1024.6 464.6,1025.6 468.0,1026.0 475.0,1024.8 478.0,1024.4 485.3,1026.3 490.0,1027.2 495.6,1026.5 500.8,1025.1 506.0,1023.8 510.0,1023.4 516.3,1025.3 520.0,1026.2 526.6,1026.0 532.0,1025.8 537.0,1025.4 541.0,1025.2 547.3,1026.8 552.0,1027.8 557.6,1026.7 564.0,1025.4 568.0,1025.9 573.1,1027.1 576.0,1027.4 583.5,1025.0 587.0,1024.2 593.8,1025.8 598.0,1026.6 604.1,1025.4 608.0,1024.8 614.5,1025.4 619.6,1026.1 624.0,1026.4 630.0,1026.0 635.1,1025.5 640.0,1025.2 645.5,1025.3 652.0,1025.4 655.8,1024.9 660.0,1024.0 666.1,1022.5 670.0,1022.0 676.0,1023.0 681.6,1025.9 684.0,1027.6 686.8,1030.3 690.0,1033.6 696.0,1037.6 701.0,1037.0 706.0,1034.4 711.6,1028.4 716.4,1016.0 721.6,1005.6 727.0,1010.4 732.0,1023.0 737.0,1028.4 743.6,1032.9 747.6,1034.0 753.0,1026.6 758.0,1014.6 763.4,1015.4 768.4,1028.0 773.6,1038.0 778.6,1037.0 783.6,1029.6 789.0,1023.0 794.0,1019.4 799.0,1018.4 804.0,1021.6 809.4,1028.6 814.6,1032.0 819.6,1027.4 825.0,1022.4 830.0,1024.0 835.6,1030.0 840.6,1033.6 845.6,1031.4 850.6,1020.6 856.0,1010.0 861.4,1009.0 866.4,1021.0 871.4,1033.6 876.6,1037.4 882.0,1031.4 887.0,1025.0 892.4,1024.6 897.4,1029.6 902.6,1034.6 907.6,1033.6 913.0,1026.6 918.6,1019.0 923.6,1015.0 928.6,1016.0 933.6,1022.4 938.6,1028.0 943.6,1029.4 949.0,1027.4 954.0,1025.0 959.4,1024.6 964.4,1026.4 969.6,1029.0 974.6,1027.0 979.6,1016.6 984.6,1005.6 990.0,1005.6 995.0,1018.0 1000.4,1033.0 1005.4,1043.0 1011.0,1046.6 1016.0,1045.0 1021.0,1041.6 1026.4,1038.0 1031.4,1032.6 1036.4,1024.0 1042.0,1016.4 1047.0,1014.6 1052.0,1013.6 1057.0,1013.0 1062.0,1017.0 1067.6,1025.0 1072.6,1029.0 1077.6,1026.6 1083.0,1022.4 1088.4,1020.0 1093.4,1020.4 1098.6,1024.0 1104.0,1029.4 1109.0,1033.0 1114.0,1031.0 1119.4,1028.4 1124.4,1030.6 1129.6,1037.0 1135.0,1042.6 1140.0,1040.6 1145.4,1032.6 1150.6,1029.0 1155.6,1029.4 1160.6,1026.6 1166.0,1018.0 1171.0,1014.4 1176.0,1011.6 1182.7,1003.5 1187.0,1000.4 1192.0,1006.0 1197.0,1012.6 1202.0,1017.0 1207.0,1027.0 1212.0,1040.0 1217.6,1046.6 1222.6,1046.4 1228.0,1044.6 1233.0,1040.6 1238.0,1033.0 1243.6,1023.4 1248.6,1018.0 1254.0,1016.0 1259.0,1015.4 1264.0,1014.0 1269.4,1012.4 1274.4,1011.4 1279.4,1011.2 1284.6,1014.0 1289.6,1022.0 1295.0,1030.0 1300.0,1033.0 1305.4,1032.0 1310.6,1030.0 1316.0,1030.0 1321.0,1036.0 1326.0,1048.0 1331.0,1054.0 1336.0,1048.0 1341.6,1038.4 1346.6,1035.0 1352.0,1037.0 1357.0,1037.0 1362.0,1032.6 1367.4,1026.0 1372.6,1021.0 1377.6,1019.6 1383.0,1021.4 1388.0,1024.0 1393.0,1024.8 1398.4,1022.0 1403.4,1018.0 1408.6,1014.0 1414.0,1008.4 1419.4,1002.4 1424.4,999.0 1429.6,999.0 1435.0,1001.0 1440.0,1005.0 1445.4,1015.0 1450.4,1028.0 1455.6,1041.0 1460.6,1045.6 1465.0,1043.6 1470.0,1038.0 1475.0,1032.0 1480.4,1025.6 1485.4,1017.6 1491.0,1009.0 1496.0,1003.0 1501.4,1003.4 1506.6,1014.0 1512.0,1033.0 1517.0,1054.0 1522.0,1072.0 1527.4,1084.0 1532.4,1087.6 1537.6,1084.0 1543.0,1073.0 1548.0,1054.0 1553.0,1028.0 1558.6,1000.0 1563.6,984.0 1568.6,975.6 1574.0,975.4 1579.4,985.0 1584.6,1001.6 1590.0,1018.6 1595.0,1033.0 1600.0,1043.0 1605.0,1047.0 1610.0,1044.4 1615.0,1035.0 1620.0,1023.0 1623.0,1013.0 1627.0,1003.0 1631.4,996.0 1637.0,992.0 1642.0,990.0 1646.6,989.4 1652.0,995.0 1657.0,1007.0 1662.0,1022.0 1667.0,1039.0 1672.0,1055.0 1677.0,1065.6 1682.4,1071.4 1687.4,1070.6 1692.6,1065.0 1698.0,1056.0 1703.0,1046.0 1708.0,1035.6 1713.0,1028.0 1718.0,1022.6 1723.4,1018.6 1729.0,1016.0 1734.0,1015.4 1739.4,1014.0 1744.4,1011.0 1749.4,1008.0 1754.4,1007.6 1760.0,1008.6 1765.4,1008.4 1770.4,1007.6 1776.0,1011.0 1781.0,1019.0 1786.0,1029.0 1791.0,1038.0 1796.0,1045.6 1801.0,1051.4 1806.0,1052.6 1811.0,1047.6 1816.4,1040.0 1821.4,1034.6 1827.0,1031.0 1832.0,1028.6 1837.4,1026.6 1843.0,1025.0 1848.0,1025.6 1854.0,1026.6 1859.0,1027.4 1864.0,1027.8 1869.0,1027.2 1874.0,1025.4 1879.0,1023.0 1884.0,1019.0 1889.0,1012.0 1894.0,1006.6 1899.0,1005.6 1904.0,1007.4 1909.4,1010.6 1914.4,1016.0 1919.4,1024.0 1924.6,1031.4 1930.0,1034.6 1935.0,1034.0 1940.0,1029.6 1945.4,1024.0 1950.0,1021.6 1952.5,1021.3 1956.0,1021.0 1961.0,1020.0 1966.0,1020.0 1971.4,1023.0 1977.0,1026.0 1983.0,1027.6 1989.0,1028.8 1995.0,1029.4 2001.0,1029.4 2004.1,1028.9 2007.0,1028.0 2012.0,1026.4 2014.4,1026.0 2018.0,1025.8 2024.0,1027.4 2029.0,1028.8 2034.0,1030.0 2040.0,1033.0 2045.0,1036.6 2049.6,1039.0 2054.0,1038.6 2059.0,1036.0 2064.0,1034.4 2069.0,1033.6 2075.0,1031.0 2081.0,1026.6 2086.0,1024.0 2092.0,1022.4 2099.0,1019.6 2102.3,1018.0 2106.0,1016.0 2113.0,1012.4" fill="none" stroke="#404040" stroke-width="2.20" stroke-linejoin="round" stroke-linecap="butt"/>
<polyline points="304.4,1138.0 310.0,1138.4 314.8,1137.8 320.0,1137.2 325.2,1137.9 330.0,1138.6 335.5,1137.7 340.0,1137.0 345.8,1137.6 350.0,1138.0 356.2,1138.0 360.0,1138.0 366.5,1137.6 372.0,1137.2 376.8,1137.7 383.0,1138.4 387.2,1138.3 392.3,1137.9 396.0,1137.6 402.7,1137.1 408.0,1136.8 413.0,1137.1 420.0,1137.8 423.3,1138.0 428.5,1138.2 433.6,1138.3 440.0,1138.4 444.0,1138.0 449.1,1137.0 452.0,1136.8 454.3,1136.8 459.5,1137.0 463.0,1137.2 469.8,1138.7 475.0,1139.6 480.1,1138.5 486.0,1137.2 490.5,1137.6 497.0,1138.2 500.8,1137.8 508.0,1136.8 511.1,1137.0 516.3,1137.7 522.0,1138.2 526.6,1138.0 531.8,1137.7 536.0,1137.6 542.1,1137.9 547.3,1138.2 552.0,1138.4 557.6,1137.6 564.0,1136.6 568.0,1137.0 573.1,1138.0 578.0,1138.6 583.5,1138.4 590.0,1138.0 593.8,1137.8 599.0,1137.4 604.1,1137.1 608.0,1137.0 614.5,1137.2 619.6,1137.5 624.0,1137.6 630.0,1137.5 635.1,1137.2 640.3,1137.1 644.0,1137.0 650.6,1137.1 655.8,1137.3 660.0,1137.4 666.1,1137.5 672.0,1137.6 677.0,1135.6 682.4,1133.4 687.4,1133.6 692.4,1139.4 698.0,1146.6 703.0,1147.4 708.0,1142.0 713.0,1137.0 718.0,1135.4 723.4,1132.0 728.4,1127.0 733.4,1128.4 738.6,1139.0 744.4,1148.0 749.4,1147.4 754.4,1139.0 760.0,1132.6 765.0,1134.0 770.0,1137.6 775.6,1139.4 780.6,1138.0 785.6,1136.6 791.0,1137.4 796.0,1139.6 801.4,1142.0 806.4,1143.0 811.6,1140.0 816.6,1134.0 821.6,1130.6 827.0,1133.0 832.0,1138.6 837.4,1143.2 842.4,1143.6 847.6,1139.6 852.6,1135.0 858.0,1133.0 863.0,1134.0 868.4,1137.4 873.6,1140.0 878.6,1139.4 883.6,1136.0 888.6,1135.4 894.0,1138.4 899.0,1142.0 904.0,1143.4 909.4,1141.4 914.6,1137.6 919.6,1135.0 925.0,1134.6 930.4,1136.6 935.4,1138.6 940.6,1139.4 946.0,1138.0 951.0,1137.0 956.0,1136.8 961.6,1138.0 967.0,1139.0 972.0,1138.6 977.0,1137.4 982.0,1135.4 987.4,1132.6 992.4,1131.0 997.6,1133.0 1002.6,1137.6 1008.0,1142.0 1013.0,1144.0 1018.0,1143.6 1023.6,1142.6 1028.6,1142.4 1033.6,1143.0 1039.0,1142.4 1044.0,1138.0 1049.4,1132.0 1054.0,1130.0 1059.4,1134.6 1064.6,1139.4 1069.6,1140.0 1074.6,1137.4 1080.0,1135.0 1085.0,1133.6 1090.0,1133.0 1095.6,1133.0 1100.6,1135.6 1106.0,1138.6 1111.0,1139.0 1116.0,1136.6 1121.4,1135.6 1126.6,1138.6 1131.6,1145.0 1137.0,1148.4 1142.0,1145.0 1147.4,1140.0 1152.4,1138.4 1157.4,1139.4 1162.4,1139.4 1168.0,1137.4 1173.0,1134.6 1178.0,1131.6 1184.0,1129.6 1188.0,1130.6 1193.6,1136.0 1199.0,1140.0 1204.0,1139.4 1209.4,1136.0 1214.4,1133.0 1219.4,1133.4 1224.6,1137.6 1230.0,1142.0 1235.4,1143.2 1240.0,1142.6 1245.4,1140.0 1250.4,1137.6 1255.4,1139.4 1260.6,1143.6 1266.0,1144.0 1271.0,1137.0 1276.4,1129.6 1281.4,1126.6 1286.4,1129.6 1291.6,1135.4 1297.0,1140.6 1302.4,1141.0 1307.4,1136.6 1312.4,1131.4 1317.4,1131.0 1322.6,1136.0 1328.0,1143.4 1333.0,1148.0 1338.0,1148.6 1343.6,1146.0 1348.6,1143.0 1353.6,1142.6 1359.0,1144.4 1364.0,1145.4 1369.4,1145.0 1374.4,1143.0 1379.4,1141.0 1384.4,1140.0 1390.0,1140.8 1395.0,1141.6 1400.4,1139.4 1405.4,1133.0 1410.6,1125.6 1416.0,1122.0 1421.0,1123.6 1426.6,1126.0 1431.6,1126.0 1436.6,1123.6 1441.6,1122.0 1447.0,1123.4 1452.0,1129.0 1457.0,1138.0 1462.0,1144.6 1467.4,1146.6 1472.4,1144.0 1477.4,1140.4 1482.6,1139.6 1488.0,1143.0 1493.4,1147.0 1498.4,1148.6 1504.0,1147.0 1509.0,1142.6 1514.4,1133.4 1519.4,1125.6 1524.4,1121.4 1529.4,1120.4 1534.6,1124.6 1540.0,1136.0 1545.0,1152.0 1550.0,1170.0 1555.4,1186.0 1560.0,1192.0 1564.0,1190.0 1570.0,1176.0 1575.0,1156.0 1580.4,1129.0 1585.6,1103.0 1591.0,1084.0 1596.4,1076.6 1601.4,1080.0 1606.6,1093.0 1612.0,1112.0 1617.0,1132.0 1623.0,1147.0 1627.4,1158.0 1633.0,1160.8 1638.0,1157.0 1643.4,1150.6 1648.6,1145.0 1654.0,1142.4 1659.0,1144.4 1664.0,1151.0 1669.0,1159.0 1674.0,1164.6 1679.4,1166.0 1684.4,1160.6 1689.4,1146.0 1694.4,1127.0 1699.6,1109.0 1705.0,1097.0 1710.4,1090.6 1715.6,1093.4 1720.6,1107.0 1725.6,1125.0 1730.6,1142.0 1735.6,1156.0 1741.0,1168.0 1746.4,1173.0 1751.4,1171.6 1756.4,1164.6 1761.6,1155.6 1767.0,1147.0 1772.4,1139.0 1778.0,1132.6 1783.0,1129.6 1789.0,1128.6 1794.0,1127.6 1799.0,1127.2 1804.0,1128.0 1809.0,1130.0 1814.0,1133.4 1819.0,1136.4 1824.0,1138.4 1830.0,1139.4 1833.6,1139.8 1836.0,1140.0 1838.8,1140.5 1842.0,1141.0 1848.0,1141.4 1853.0,1140.6 1859.0,1137.4 1865.0,1134.0 1872.0,1132.6 1875.0,1132.2 1878.0,1132.0 1882.0,1132.6 1885.3,1134.0 1888.0,1135.4 1890.5,1136.5 1894.0,1138.0 1900.0,1139.6 1908.0,1140.6 1911.1,1141.2 1915.0,1142.0 1922.0,1142.6 1926.6,1142.0 1929.0,1141.6 1931.8,1141.3 1936.0,1140.8 1942.0,1139.4 1949.0,1137.0 1952.5,1135.8 1956.0,1134.6 1963.0,1132.6 1969.0,1131.6 1974.0,1132.6 1980.0,1135.6 1983.5,1137.1 1986.0,1138.0 1988.6,1138.6 1992.0,1139.0 2000.0,1139.0 2004.1,1138.6 2008.0,1138.0 2016.0,1136.6 2019.6,1136.6 2024.0,1136.6 2030.0,1138.0 2036.0,1140.6 2040.3,1142.0 2046.0,1143.4 2052.0,1144.0 2055.8,1144.0 2059.0,1144.0 2065.0,1142.6 2071.0,1139.6 2077.0,1136.4 2083.0,1134.0 2086.8,1133.4 2090.0,1133.0 2098.0,1132.0 2104.0,1133.0 2107.4,1133.8 2113.0,1135.6" fill="none" stroke="#404040" stroke-width="2.20" stroke-linejoin="round" stroke-linecap="butt"/>
<polyline points="304.4,1249.0 309.0,1247.4 314.8,1249.4 319.0,1250.6 325.2,1250.1 330.0,1249.8 335.5,1250.5 340.0,1251.0 345.8,1249.4 351.0,1248.0 356.2,1249.4 362.0,1251.0 366.5,1250.2 372.0,1249.0 376.8,1249.9 384.0,1251.6 387.2,1251.3 392.3,1250.0 397.0,1249.2 402.7,1249.0 406.0,1249.0 413.0,1250.1 418.0,1250.8 423.3,1249.2 428.0,1247.8 433.6,1249.5 438.0,1250.6 444.0,1250.1 448.0,1249.8 454.3,1251.5 458.0,1252.2 464.6,1249.5 469.0,1248.0 475.0,1249.7 480.1,1252.0 484.0,1252.8 490.5,1251.2 497.0,1249.4 500.8,1249.3 506.0,1249.2 509.0,1249.2 516.3,1251.2 521.0,1252.2 526.6,1251.1 532.0,1249.8 537.0,1249.1 542.0,1248.8 547.3,1249.5 554.0,1250.6 557.6,1249.9 562.8,1248.1 566.0,1247.6 573.1,1250.6 577.0,1251.8 583.5,1250.5 588.0,1249.8 593.8,1249.9 598.0,1250.0 604.1,1249.4 609.0,1249.0 614.5,1249.3 619.6,1249.8 622.0,1250.0 624.8,1250.3 630.0,1251.0 635.0,1251.4 640.3,1250.3 646.0,1249.0 650.6,1249.1 656.0,1249.2 661.0,1248.0 666.0,1246.4 671.3,1245.6 674.0,1245.4 676.5,1245.5 681.6,1246.1 686.0,1247.0 691.0,1251.4 696.0,1263.0 701.0,1272.0 706.0,1264.0 711.0,1249.0 716.4,1239.0 721.6,1235.0 727.0,1235.6 732.0,1243.0 737.0,1252.0 743.0,1259.6 748.0,1262.4 753.0,1253.0 758.4,1236.6 763.4,1233.6 768.6,1249.0 773.6,1264.0 778.6,1263.6 783.6,1252.0 789.0,1241.0 794.4,1238.4 799.6,1244.0 804.6,1255.0 809.6,1265.4 815.0,1260.6 820.0,1241.0 825.4,1230.4 830.6,1240.4 835.6,1258.0 840.6,1269.0 845.6,1264.0 851.0,1250.0 856.4,1239.0 861.4,1235.6 866.4,1241.6 872.0,1251.6 877.0,1255.4 882.0,1252.4 887.4,1248.4 892.4,1249.6 897.6,1256.0 903.0,1263.6 908.0,1262.6 913.4,1251.6 918.6,1241.0 923.6,1235.0 928.6,1236.4 934.0,1246.0 939.0,1255.0 944.0,1257.6 949.4,1255.0 955.0,1251.0 959.4,1249.6 965.0,1251.6 970.0,1252.4 975.0,1250.0 980.0,1244.4 985.0,1236.6 990.4,1232.0 995.6,1236.0 1000.6,1248.0 1006.0,1262.6 1011.4,1267.4 1016.0,1263.4 1021.4,1260.0 1026.4,1259.6 1031.6,1256.6 1037.0,1250.6 1042.4,1247.4 1047.0,1245.6 1052.0,1243.0 1057.4,1241.0 1062.4,1243.0 1068.0,1246.6 1073.0,1250.4 1078.0,1251.6 1083.0,1249.0 1088.4,1245.4 1093.4,1245.2 1098.6,1248.0 1104.0,1251.0 1109.4,1252.6 1114.4,1252.0 1119.4,1251.2 1124.6,1253.6 1130.0,1258.0 1135.4,1262.0 1140.4,1263.4 1145.4,1260.4 1151.0,1255.6 1156.0,1255.0 1161.0,1254.6 1166.0,1250.6 1171.4,1245.4 1177.0,1241.0 1182.7,1234.6 1186.0,1232.0 1191.6,1230.6 1197.0,1234.0 1202.4,1238.4 1207.4,1243.6 1212.4,1254.0 1217.6,1263.6 1223.0,1267.4 1228.0,1265.6 1234.0,1261.0 1239.0,1259.0 1244.0,1257.0 1249.0,1252.0 1254.0,1247.4 1259.4,1245.6 1264.4,1246.0 1269.4,1244.6 1274.4,1241.6 1280.0,1238.0 1285.0,1236.6 1290.0,1236.6 1295.4,1239.6 1300.6,1246.4 1305.6,1252.4 1311.0,1254.6 1316.0,1253.4 1321.0,1251.6 1326.4,1253.0 1331.4,1260.6 1336.6,1268.4 1341.6,1268.6 1347.0,1265.0 1352.4,1262.0 1357.4,1260.4 1362.0,1258.0 1367.4,1253.6 1372.6,1250.0 1378.0,1248.0 1383.0,1247.6 1388.6,1249.6 1393.6,1252.0 1398.6,1252.2 1403.6,1250.0 1409.0,1246.4 1414.0,1240.4 1419.4,1231.6 1424.4,1226.0 1429.4,1225.6 1435.0,1227.4 1440.0,1229.4 1445.4,1233.6 1450.4,1241.0 1455.6,1251.0 1460.6,1261.6 1466.0,1270.0 1471.0,1275.4 1476.0,1275.2 1481.4,1271.6 1486.4,1267.6 1491.6,1263.0 1496.6,1255.0 1502.0,1243.0 1507.0,1232.4 1512.0,1225.0 1517.4,1222.0 1522.4,1224.4 1527.4,1230.4 1532.6,1240.4 1538.0,1252.0 1543.0,1262.0 1548.4,1269.6 1553.4,1274.0 1558.6,1274.0 1563.6,1271.6 1569.0,1266.6 1574.0,1260.4 1579.4,1255.4 1584.4,1256.0 1589.6,1260.4 1595.0,1264.6 1600.0,1265.0 1605.0,1260.4 1610.0,1247.0 1615.0,1231.6 1623.0,1216.0 1627.0,1209.0 1631.4,1205.0 1636.4,1203.0 1641.4,1205.6 1646.4,1211.4 1651.6,1222.0 1657.0,1237.0 1662.0,1254.0 1667.0,1273.0 1672.0,1291.0 1677.4,1304.4 1683.0,1312.0 1688.0,1309.0 1693.0,1296.0 1698.0,1274.0 1703.0,1249.0 1708.0,1226.0 1713.0,1210.6 1718.6,1204.4 1724.0,1208.0 1729.0,1217.0 1734.0,1229.0 1739.4,1241.0 1744.4,1250.6 1749.4,1257.4 1755.0,1261.4 1760.0,1263.6 1765.4,1265.6 1771.0,1267.4 1776.0,1268.0 1781.0,1266.0 1786.0,1260.6 1791.4,1255.0 1796.6,1250.6 1801.6,1248.4 1806.6,1249.0 1812.0,1252.0 1817.0,1254.6 1822.0,1257.0 1827.0,1258.0 1832.0,1255.6 1837.4,1249.6 1842.6,1244.0 1848.0,1240.6 1853.0,1240.0 1858.0,1239.4 1863.4,1238.6 1868.6,1240.4 1874.0,1244.6 1879.0,1246.6 1884.0,1245.4 1889.0,1243.6 1894.0,1244.0 1899.4,1246.0 1905.0,1248.0 1910.0,1250.6 1915.0,1253.6 1920.0,1256.0 1925.0,1257.0 1930.0,1256.0 1935.0,1252.4 1940.0,1247.0 1945.0,1242.4 1950.0,1241.4 1952.5,1242.4 1955.0,1244.6 1957.6,1247.5 1960.0,1250.6 1962.8,1254.5 1965.4,1258.0 1968.0,1261.1 1970.4,1263.4 1973.1,1265.4 1976.0,1266.4 1981.0,1266.0 1983.5,1264.9 1986.0,1263.0 1988.6,1260.7 1991.0,1258.0 1996.0,1250.6 2001.0,1244.0 2006.0,1240.4 2009.3,1239.1 2012.0,1238.4 2014.4,1237.9 2018.0,1237.6 2023.0,1239.0 2029.0,1242.6 2035.0,1247.4 2040.0,1250.6 2045.0,1254.4 2050.0,1257.4 2054.4,1258.4 2059.0,1256.4 2064.0,1254.0 2070.0,1253.4 2076.0,1253.0 2083.0,1251.6 2086.8,1251.0 2090.0,1250.8 2096.0,1251.6 2101.0,1252.6 2107.0,1251.4 2113.0,1248.0" fill="none" stroke="#404040" stroke-width="2.20" stroke-linejoin="round" stroke-linecap="butt"/>
<polyline points="304.4,1361.6 309.7,1362.3 316.0,1362.6 320.0,1362.4 325.2,1361.9 330.0,1361.6 335.5,1361.6 340.7,1361.7 344.0,1361.8 351.0,1362.1 356.2,1362.3 360.0,1362.4 366.5,1362.2 371.7,1361.9 376.8,1361.7 380.0,1361.6 387.2,1361.9 392.3,1362.3 396.0,1362.4 402.7,1362.1 408.0,1361.8 413.0,1362.0 420.0,1362.4 423.3,1362.3 428.5,1361.9 434.0,1361.6 438.8,1361.7 446.0,1362.0 449.1,1362.0 454.3,1362.0 459.5,1362.0 464.0,1362.0 469.8,1361.8 475.0,1361.4 480.0,1361.2 485.3,1361.3 490.5,1361.4 495.6,1361.6 500.0,1361.8 506.0,1362.0 512.0,1362.2 516.3,1362.1 521.5,1361.7 528.0,1361.4 531.8,1361.5 537.0,1361.8 544.0,1362.0 547.3,1362.0 552.5,1361.8 557.6,1361.6 560.0,1361.6 562.8,1361.6 568.0,1361.8 574.0,1362.0 578.3,1361.8 584.0,1361.4 588.6,1361.7 596.0,1362.4 599.0,1362.3 604.1,1362.1 609.3,1361.8 612.0,1361.8 614.5,1361.8 619.6,1361.8 624.8,1361.8 628.0,1361.8 635.1,1361.4 640.3,1360.9 644.0,1360.8 650.6,1361.2 658.0,1361.6 661.0,1361.5 666.1,1361.0 670.0,1360.4 676.0,1358.0 681.6,1356.0 687.0,1358.6 692.0,1367.0 697.0,1375.6 702.0,1377.6 707.0,1370.0 712.4,1360.0 717.4,1353.0 722.4,1348.4 727.6,1348.0 732.6,1357.0 738.0,1368.0 744.0,1373.6 748.6,1372.0 754.0,1362.0 759.0,1353.4 764.4,1352.6 769.4,1361.0 774.6,1369.0 779.6,1370.4 784.6,1363.4 790.4,1356.0 795.4,1356.4 800.6,1365.4 806.0,1372.0 811.0,1371.6 816.0,1361.0 821.0,1349.0 826.4,1346.4 831.4,1356.4 836.4,1370.0 841.6,1377.0 846.6,1372.0 852.0,1359.0 857.6,1350.0 862.4,1352.0 867.4,1362.0 872.4,1369.0 877.4,1367.4 882.6,1360.4 888.0,1357.0 893.0,1360.4 898.0,1366.4 903.6,1370.6 909.0,1370.0 914.0,1364.0 919.4,1357.0 924.6,1353.4 929.6,1356.6 935.0,1362.4 940.6,1365.0 946.0,1363.6 951.0,1361.0 955.6,1359.6 960.6,1359.6 966.0,1361.4 971.0,1363.4 976.0,1362.6 981.0,1359.0 986.4,1355.0 991.4,1353.4 996.6,1354.0 1002.0,1358.0 1007.0,1364.0 1012.4,1369.4 1017.6,1372.6 1022.6,1375.4 1027.6,1376.0 1033.0,1373.4 1038.0,1368.0 1043.4,1361.0 1048.6,1354.0 1054.0,1350.4 1058.4,1350.0 1063.6,1352.6 1069.0,1357.6 1074.0,1363.0 1079.0,1365.0 1084.0,1361.6 1089.4,1355.4 1094.4,1353.0 1100.0,1358.4 1105.0,1363.0 1110.0,1364.0 1115.0,1364.0 1120.0,1366.0 1125.4,1367.4 1130.4,1365.0 1135.6,1365.4 1141.0,1371.6 1146.0,1374.4 1151.4,1367.0 1156.6,1360.0 1161.6,1358.0 1167.0,1358.6 1172.0,1357.0 1177.0,1355.4 1182.7,1356.6 1187.6,1357.6 1193.0,1355.6 1198.4,1354.0 1203.6,1358.0 1208.6,1363.6 1213.6,1366.6 1219.0,1365.0 1224.4,1362.0 1229.0,1363.0 1234.0,1368.0 1239.4,1372.0 1244.4,1370.4 1249.4,1364.6 1255.0,1358.0 1260.0,1355.0 1265.4,1356.6 1270.6,1359.4 1275.6,1360.0 1280.6,1357.6 1286.0,1351.0 1291.4,1345.6 1296.4,1349.0 1301.4,1362.0 1306.6,1374.4 1312.0,1377.0 1317.0,1365.0 1322.0,1355.0 1327.4,1353.0 1332.4,1362.4 1337.6,1375.6 1343.0,1383.6 1348.0,1381.6 1353.4,1372.4 1358.6,1365.4 1363.6,1364.0 1368.6,1367.0 1373.6,1370.4 1378.6,1371.6 1384.0,1369.0 1389.4,1363.0 1394.6,1357.6 1399.4,1358.4 1405.0,1360.0 1410.0,1358.0 1415.0,1352.0 1420.6,1345.0 1425.6,1343.0 1430.6,1346.0 1435.6,1350.4 1441.0,1353.0 1446.0,1352.0 1451.4,1349.6 1456.4,1349.6 1461.6,1354.4 1467.0,1360.4 1472.0,1364.4 1477.0,1364.0 1482.4,1359.0 1487.4,1353.6 1492.4,1352.0 1497.4,1355.0 1502.6,1363.6 1508.0,1373.4 1513.4,1379.6 1518.4,1381.0 1523.4,1378.4 1529.0,1374.4 1534.0,1373.0 1539.4,1375.0 1544.4,1380.4 1550.0,1388.0 1555.0,1396.0 1560.0,1402.4 1565.0,1403.0 1570.0,1393.0 1575.0,1375.0 1580.0,1352.0 1585.0,1328.0 1590.0,1310.0 1596.0,1301.6 1601.0,1304.0 1606.0,1315.0 1611.4,1330.0 1617.0,1345.0 1623.0,1360.0 1627.4,1369.0 1632.4,1374.4 1637.0,1375.0 1642.0,1371.0 1647.0,1365.0 1652.0,1360.6 1657.0,1359.6 1662.0,1363.4 1667.4,1373.0 1672.4,1385.0 1678.0,1397.0 1683.4,1405.0 1688.6,1408.0 1694.0,1404.0 1699.4,1390.0 1704.4,1367.0 1709.4,1340.0 1714.4,1316.0 1719.4,1300.6 1724.6,1300.6 1729.6,1316.0 1734.6,1340.0 1739.6,1363.0 1744.6,1382.0 1750.0,1397.0 1756.0,1403.0 1761.0,1399.0 1766.0,1390.0 1771.4,1378.0 1777.0,1366.6 1782.0,1358.0 1787.0,1351.6 1792.0,1348.0 1797.0,1346.4 1802.0,1347.0 1807.4,1350.0 1812.6,1355.0 1818.0,1360.4 1823.4,1366.0 1828.6,1369.6 1834.0,1371.0 1839.0,1370.0 1844.4,1367.4 1849.6,1364.0 1855.0,1360.4 1860.0,1357.4 1865.0,1355.6 1870.0,1355.0 1875.0,1356.0 1880.0,1358.0 1885.0,1361.0 1890.0,1363.6 1895.0,1365.6 1900.0,1366.6 1906.0,1366.6 1912.0,1365.6 1918.0,1364.0 1921.5,1363.2 1924.0,1362.6 1926.6,1362.1 1932.0,1361.0 1937.0,1360.0 1940.0,1359.4 1948.0,1357.4 1952.5,1356.0 1956.0,1355.0 1962.0,1353.8 1968.0,1353.6 1973.0,1355.6 1978.0,1359.0 1983.0,1363.0 1988.0,1366.6 1993.0,1369.6 1998.0,1370.8 2003.0,1370.4 2008.0,1368.0 2014.0,1364.0 2020.0,1360.0 2026.0,1357.0 2032.0,1355.4 2037.0,1355.6 2040.3,1356.9 2046.0,1361.6 2052.0,1367.0 2058.0,1372.0 2060.9,1373.7 2064.0,1375.0 2070.0,1376.0 2076.0,1374.4 2082.0,1370.6 2089.0,1365.0 2091.9,1362.6 2096.0,1359.6 2103.0,1355.6 2107.4,1353.7 2113.0,1352.0" fill="none" stroke="#404040" stroke-width="2.20" stroke-linejoin="round" stroke-linecap="butt"/></g>
<text transform="translate(325.2,227.8) scale(1,1.026)" font-size="41.67" fill="#000">609100156 | 1.00</text>
<text transform="translate(325.2,339.9) scale(1,1.026)" font-size="41.67" fill="#000">1094669 | 0.85</text>
<text transform="translate(325.2,452.0) scale(1,1.026)" font-size="41.67" fill="#000">1498788 | 0.84</text>
<text transform="translate(325.2,564.1) scale(1,1.026)" font-size="41.67" fill="#000">1334547 | 0.84</text>
<text transform="translate(325.2,676.2) scale(1,1.026)" font-size="41.67" fill="#000">1064835 | 0.81</text>
<text transform="translate(325.2,788.3) scale(1,1.026)" font-size="41.67" fill="#000">1407602 | 0.78</text>
<text transform="translate(325.2,900.4) scale(1,1.026)" font-size="41.67" fill="#000">1334047 | 0.77</text>
<text transform="translate(325.2,1012.5) scale(1,1.026)" font-size="41.67" fill="#000">1138040 | 0.77</text>
<text transform="translate(325.2,1124.6) scale(1,1.026)" font-size="41.67" fill="#000">1326313 | 0.76</text>
<text transform="translate(325.2,1236.7) scale(1,1.026)" font-size="41.67" fill="#000">1066886 | 0.76</text>
<text transform="translate(325.2,1348.8) scale(1,1.026)" font-size="41.67" fill="#000">1341412 | 0.75</text>
<g><line x1="1394.0" y1="213.1" x2="1394.0" y2="268.9" stroke="#00e600" stroke-width="8.2"/>
<line x1="1447.0" y1="325.2" x2="1447.0" y2="381.0" stroke="#00e600" stroke-width="8.2"/>
<line x1="1446.4" y1="437.3" x2="1446.4" y2="493.1" stroke="#00e600" stroke-width="8.2"/>
<line x1="1529.6" y1="549.4" x2="1529.6" y2="605.2" stroke="#00e600" stroke-width="8.2"/>
<line x1="1461.0" y1="661.5" x2="1461.0" y2="717.3" stroke="#00e600" stroke-width="8.2"/>
<line x1="1530.0" y1="773.6" x2="1530.0" y2="829.4" stroke="#00e600" stroke-width="8.2"/>
<line x1="1460.4" y1="885.7" x2="1460.4" y2="941.5" stroke="#00e600" stroke-width="8.2"/>
<line x1="1460.4" y1="997.8" x2="1460.4" y2="1053.6" stroke="#00e600" stroke-width="8.2"/>
<line x1="1498.4" y1="1109.9" x2="1498.4" y2="1165.7" stroke="#00e600" stroke-width="8.2"/>
<line x1="1460.4" y1="1222.0" x2="1460.4" y2="1277.8" stroke="#00e600" stroke-width="8.2"/>
<line x1="1554.4" y1="1334.1" x2="1554.4" y2="1389.9" stroke="#00e600" stroke-width="8.2"/>
<line x1="665.8" y1="213.1" x2="665.8" y2="268.9" stroke="#ff0000" stroke-width="8.2"/></g>
<rect x="304.5" y="129.4" width="1808.1" height="1429.0" fill="none" stroke="#262626" stroke-width="2.08"/>
<text transform="translate(458.6,1616.9) scale(1,1.026)" font-size="41.67" text-anchor="middle" fill="#262626">-0.2</text>
<text transform="translate(665.2,1616.9) scale(1,1.026)" font-size="41.67" text-anchor="middle" fill="#262626">0</text>
<text transform="translate(871.9,1616.9) scale(1,1.026)" font-size="41.67" text-anchor="middle" fill="#262626">0.2</text>
<text transform="translate(1078.5,1616.9) scale(1,1.026)" font-size="41.67" text-anchor="middle" fill="#262626">0.4</text>
<text transform="translate(1285.1,1616.9) scale(1,1.026)" font-size="41.67" text-anchor="middle" fill="#262626">0.6</text>
<text transform="translate(1491.8,1616.9) scale(1,1.026)" font-size="41.67" text-anchor="middle" fill="#262626">0.8</text>
<text transform="translate(1698.4,1616.9) scale(1,1.026)" font-size="41.67" text-anchor="middle" fill="#262626">1</text>
<text transform="translate(1905.1,1616.9) scale(1,1.026)" font-size="41.67" text-anchor="middle" fill="#262626">1.2</text>
<text transform="translate(2111.7,1616.9) scale(1,1.026)" font-size="41.67" text-anchor="middle" fill="#262626">1.4</text>
</svg></body></html>
